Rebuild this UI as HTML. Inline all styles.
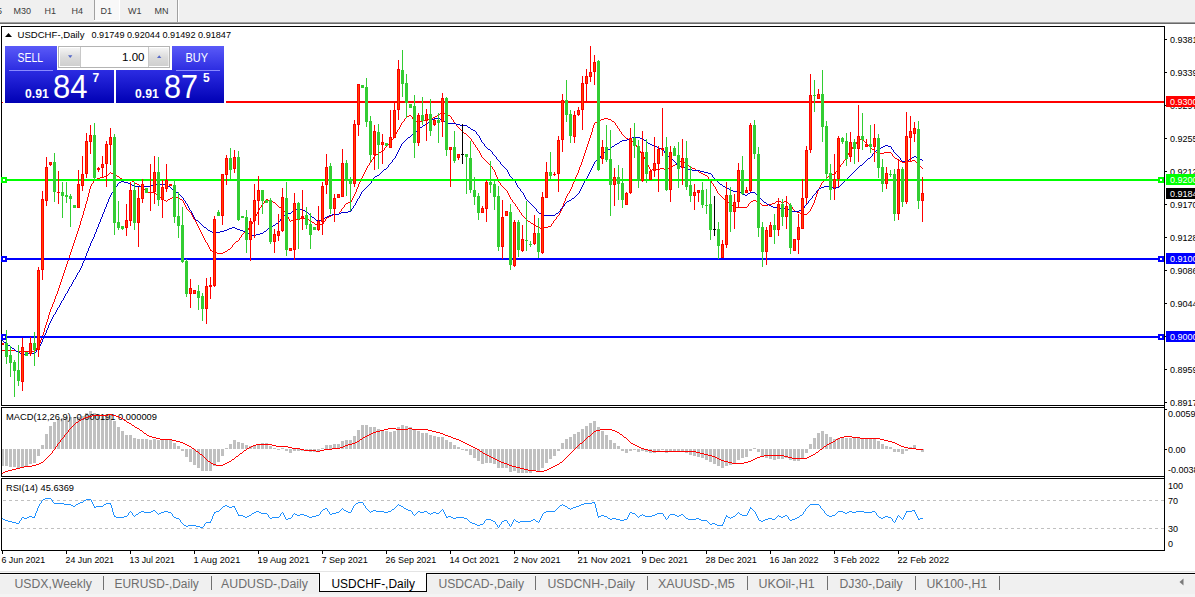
<!DOCTYPE html>
<html><head><meta charset="utf-8"><title>USDCHF-,Daily</title>
<style>
html,body{margin:0;padding:0;background:#fff;}
body{width:1195px;height:597px;overflow:hidden;position:relative;font-family:"Liberation Sans", sans-serif;}
svg{position:absolute;left:0;top:0;}
svg text{font-family:"Liberation Sans", sans-serif;}
</style></head><body>
<svg width="1195" height="597" viewBox="0 0 1195 597" shape-rendering="crispEdges">
<rect x="0" y="0" width="1195" height="22" fill="#f0f0f0"/><rect x="0" y="572" width="1195" height="25" fill="#f0f0f0"/><rect x="0" y="22" width="1195" height="1" fill="#a0a0a0"/><rect x="0" y="23" width="1195" height="1" fill="#696969"/><rect x="94" y="0" width="1" height="20" fill="#a0a0a0"/><rect x="95" y="0" width="24" height="20" fill="#f8f8f8"/><rect x="119" y="0" width="1" height="21" fill="#ffffff"/><rect x="94" y="20" width="26" height="1" fill="#ffffff"/><rect x="177" y="0" width="1" height="22" fill="#a0a0a0"/><rect x="178" y="0" width="1" height="22" fill="#ffffff"/><rect x="1" y="26" width="1164" height="1" fill="#000"/><rect x="1" y="26" width="1" height="525" fill="#000"/><rect x="1164" y="26" width="1" height="525" fill="#000"/><rect x="1" y="405" width="1164" height="1" fill="#000"/><rect x="1" y="407" width="1164" height="1" fill="#000"/><rect x="1" y="476" width="1164" height="1" fill="#000"/><rect x="1" y="478" width="1164" height="1" fill="#000"/><rect x="1" y="550" width="1164" height="1" fill="#000"/><rect x="0" y="406" width="1164" height="1" fill="#fff"/><rect x="0" y="477" width="1164" height="1" fill="#fff"/><rect x="2" y="449" width="2" height="17" fill="#c0c0c0"/><rect x="5" y="449" width="3" height="17" fill="#c0c0c0"/><rect x="9" y="449" width="3" height="18" fill="#c0c0c0"/><rect x="13" y="449" width="3" height="18" fill="#c0c0c0"/><rect x="17" y="449" width="3" height="19" fill="#c0c0c0"/><rect x="21" y="449" width="3" height="18" fill="#c0c0c0"/><rect x="25" y="449" width="3" height="17" fill="#c0c0c0"/><rect x="29" y="449" width="3" height="15" fill="#c0c0c0"/><rect x="33" y="449" width="3" height="14" fill="#c0c0c0"/><rect x="37" y="449" width="3" height="7" fill="#c0c0c0"/><rect x="41" y="445" width="3" height="4" fill="#c0c0c0"/><rect x="45" y="434" width="3" height="15" fill="#c0c0c0"/><rect x="49" y="426" width="3" height="23" fill="#c0c0c0"/><rect x="53" y="422" width="3" height="27" fill="#c0c0c0"/><rect x="57" y="419" width="3" height="30" fill="#c0c0c0"/><rect x="61" y="418" width="3" height="31" fill="#c0c0c0"/><rect x="65" y="417" width="3" height="32" fill="#c0c0c0"/><rect x="69" y="417" width="3" height="32" fill="#c0c0c0"/><rect x="73" y="417" width="3" height="32" fill="#c0c0c0"/><rect x="77" y="417" width="3" height="32" fill="#c0c0c0"/><rect x="81" y="416" width="3" height="33" fill="#c0c0c0"/><rect x="85" y="413" width="3" height="36" fill="#c0c0c0"/><rect x="89" y="411" width="3" height="38" fill="#c0c0c0"/><rect x="93" y="413" width="3" height="36" fill="#c0c0c0"/><rect x="97" y="414" width="3" height="35" fill="#c0c0c0"/><rect x="101" y="415" width="3" height="34" fill="#c0c0c0"/><rect x="105" y="415" width="3" height="34" fill="#c0c0c0"/><rect x="109" y="415" width="3" height="34" fill="#c0c0c0"/><rect x="113" y="421" width="3" height="28" fill="#c0c0c0"/><rect x="117" y="427" width="3" height="22" fill="#c0c0c0"/><rect x="121" y="431" width="3" height="18" fill="#c0c0c0"/><rect x="125" y="435" width="3" height="14" fill="#c0c0c0"/><rect x="129" y="435" width="3" height="14" fill="#c0c0c0"/><rect x="133" y="438" width="3" height="11" fill="#c0c0c0"/><rect x="137" y="439" width="3" height="10" fill="#c0c0c0"/><rect x="141" y="439" width="3" height="10" fill="#c0c0c0"/><rect x="145" y="439" width="3" height="10" fill="#c0c0c0"/><rect x="149" y="440" width="3" height="9" fill="#c0c0c0"/><rect x="153" y="439" width="3" height="10" fill="#c0c0c0"/><rect x="157" y="440" width="3" height="9" fill="#c0c0c0"/><rect x="161" y="440" width="3" height="9" fill="#c0c0c0"/><rect x="165" y="440" width="3" height="9" fill="#c0c0c0"/><rect x="169" y="440" width="3" height="9" fill="#c0c0c0"/><rect x="173" y="443" width="3" height="6" fill="#c0c0c0"/><rect x="177" y="446" width="3" height="3" fill="#c0c0c0"/><rect x="181" y="449" width="3" height="2" fill="#c0c0c0"/><rect x="185" y="449" width="3" height="8" fill="#c0c0c0"/><rect x="189" y="449" width="3" height="13" fill="#c0c0c0"/><rect x="193" y="449" width="3" height="16" fill="#c0c0c0"/><rect x="197" y="449" width="3" height="19" fill="#c0c0c0"/><rect x="201" y="449" width="3" height="22" fill="#c0c0c0"/><rect x="205" y="449" width="3" height="22" fill="#c0c0c0"/><rect x="209" y="449" width="3" height="22" fill="#c0c0c0"/><rect x="213" y="449" width="3" height="17" fill="#c0c0c0"/><rect x="217" y="449" width="3" height="13" fill="#c0c0c0"/><rect x="221" y="449" width="3" height="7" fill="#c0c0c0"/><rect x="225" y="448" width="3" height="1" fill="#c0c0c0"/><rect x="229" y="444" width="3" height="5" fill="#c0c0c0"/><rect x="233" y="440" width="3" height="9" fill="#c0c0c0"/><rect x="237" y="442" width="3" height="7" fill="#c0c0c0"/><rect x="241" y="443" width="3" height="6" fill="#c0c0c0"/><rect x="245" y="445" width="3" height="4" fill="#c0c0c0"/><rect x="249" y="446" width="3" height="3" fill="#c0c0c0"/><rect x="253" y="445" width="3" height="4" fill="#c0c0c0"/><rect x="257" y="444" width="3" height="5" fill="#c0c0c0"/><rect x="261" y="443" width="3" height="6" fill="#c0c0c0"/><rect x="265" y="443" width="3" height="6" fill="#c0c0c0"/><rect x="269" y="446" width="3" height="3" fill="#c0c0c0"/><rect x="273" y="448" width="3" height="1" fill="#c0c0c0"/><rect x="277" y="449" width="3" height="1" fill="#c0c0c0"/><rect x="281" y="448" width="3" height="1" fill="#c0c0c0"/><rect x="285" y="449" width="3" height="2" fill="#c0c0c0"/><rect x="289" y="449" width="3" height="4" fill="#c0c0c0"/><rect x="293" y="449" width="3" height="2" fill="#c0c0c0"/><rect x="297" y="449" width="3" height="2" fill="#c0c0c0"/><rect x="301" y="449" width="3" height="2" fill="#c0c0c0"/><rect x="305" y="449" width="3" height="2" fill="#c0c0c0"/><rect x="309" y="449" width="3" height="3" fill="#c0c0c0"/><rect x="313" y="449" width="3" height="3" fill="#c0c0c0"/><rect x="317" y="449" width="3" height="3" fill="#c0c0c0"/><rect x="321" y="448" width="3" height="1" fill="#c0c0c0"/><rect x="325" y="445" width="3" height="4" fill="#c0c0c0"/><rect x="329" y="445" width="3" height="4" fill="#c0c0c0"/><rect x="333" y="444" width="3" height="5" fill="#c0c0c0"/><rect x="337" y="444" width="3" height="5" fill="#c0c0c0"/><rect x="341" y="441" width="3" height="8" fill="#c0c0c0"/><rect x="345" y="440" width="3" height="9" fill="#c0c0c0"/><rect x="349" y="440" width="3" height="9" fill="#c0c0c0"/><rect x="353" y="436" width="3" height="13" fill="#c0c0c0"/><rect x="357" y="430" width="3" height="19" fill="#c0c0c0"/><rect x="361" y="425" width="3" height="24" fill="#c0c0c0"/><rect x="365" y="425" width="3" height="24" fill="#c0c0c0"/><rect x="369" y="427" width="3" height="22" fill="#c0c0c0"/><rect x="373" y="427" width="3" height="22" fill="#c0c0c0"/><rect x="377" y="429" width="3" height="20" fill="#c0c0c0"/><rect x="381" y="430" width="3" height="19" fill="#c0c0c0"/><rect x="385" y="431" width="3" height="18" fill="#c0c0c0"/><rect x="389" y="432" width="3" height="17" fill="#c0c0c0"/><rect x="393" y="431" width="3" height="18" fill="#c0c0c0"/><rect x="397" y="427" width="3" height="22" fill="#c0c0c0"/><rect x="401" y="425" width="3" height="24" fill="#c0c0c0"/><rect x="405" y="426" width="3" height="23" fill="#c0c0c0"/><rect x="409" y="427" width="3" height="22" fill="#c0c0c0"/><rect x="413" y="430" width="3" height="19" fill="#c0c0c0"/><rect x="417" y="431" width="3" height="18" fill="#c0c0c0"/><rect x="421" y="433" width="3" height="16" fill="#c0c0c0"/><rect x="425" y="433" width="3" height="16" fill="#c0c0c0"/><rect x="429" y="435" width="3" height="14" fill="#c0c0c0"/><rect x="433" y="436" width="3" height="13" fill="#c0c0c0"/><rect x="437" y="437" width="3" height="12" fill="#c0c0c0"/><rect x="441" y="437" width="3" height="12" fill="#c0c0c0"/><rect x="445" y="440" width="3" height="9" fill="#c0c0c0"/><rect x="449" y="442" width="3" height="7" fill="#c0c0c0"/><rect x="453" y="445" width="3" height="4" fill="#c0c0c0"/><rect x="457" y="447" width="3" height="2" fill="#c0c0c0"/><rect x="461" y="449" width="3" height="1" fill="#c0c0c0"/><rect x="465" y="449" width="3" height="2" fill="#c0c0c0"/><rect x="469" y="449" width="3" height="6" fill="#c0c0c0"/><rect x="473" y="449" width="3" height="9" fill="#c0c0c0"/><rect x="477" y="449" width="3" height="12" fill="#c0c0c0"/><rect x="481" y="449" width="3" height="15" fill="#c0c0c0"/><rect x="485" y="449" width="3" height="14" fill="#c0c0c0"/><rect x="489" y="449" width="3" height="14" fill="#c0c0c0"/><rect x="493" y="449" width="3" height="15" fill="#c0c0c0"/><rect x="497" y="449" width="3" height="19" fill="#c0c0c0"/><rect x="501" y="449" width="3" height="19" fill="#c0c0c0"/><rect x="505" y="449" width="3" height="19" fill="#c0c0c0"/><rect x="509" y="449" width="3" height="23" fill="#c0c0c0"/><rect x="513" y="449" width="3" height="22" fill="#c0c0c0"/><rect x="517" y="449" width="3" height="24" fill="#c0c0c0"/><rect x="521" y="449" width="3" height="24" fill="#c0c0c0"/><rect x="525" y="449" width="3" height="24" fill="#c0c0c0"/><rect x="529" y="449" width="3" height="24" fill="#c0c0c0"/><rect x="533" y="449" width="3" height="22" fill="#c0c0c0"/><rect x="537" y="449" width="3" height="23" fill="#c0c0c0"/><rect x="541" y="449" width="3" height="19" fill="#c0c0c0"/><rect x="545" y="449" width="3" height="14" fill="#c0c0c0"/><rect x="549" y="449" width="3" height="10" fill="#c0c0c0"/><rect x="553" y="449" width="3" height="7" fill="#c0c0c0"/><rect x="557" y="449" width="3" height="2" fill="#c0c0c0"/><rect x="561" y="443" width="3" height="6" fill="#c0c0c0"/><rect x="565" y="439" width="3" height="10" fill="#c0c0c0"/><rect x="569" y="437" width="3" height="12" fill="#c0c0c0"/><rect x="573" y="434" width="3" height="15" fill="#c0c0c0"/><rect x="577" y="432" width="3" height="17" fill="#c0c0c0"/><rect x="581" y="429" width="3" height="20" fill="#c0c0c0"/><rect x="585" y="426" width="3" height="23" fill="#c0c0c0"/><rect x="589" y="423" width="3" height="26" fill="#c0c0c0"/><rect x="593" y="421" width="3" height="28" fill="#c0c0c0"/><rect x="597" y="427" width="3" height="22" fill="#c0c0c0"/><rect x="601" y="431" width="3" height="18" fill="#c0c0c0"/><rect x="605" y="435" width="3" height="14" fill="#c0c0c0"/><rect x="609" y="440" width="3" height="9" fill="#c0c0c0"/><rect x="613" y="443" width="3" height="6" fill="#c0c0c0"/><rect x="617" y="446" width="3" height="3" fill="#c0c0c0"/><rect x="621" y="449" width="3" height="2" fill="#c0c0c0"/><rect x="625" y="449" width="3" height="4" fill="#c0c0c0"/><rect x="629" y="449" width="3" height="2" fill="#c0c0c0"/><rect x="633" y="449" width="3" height="1" fill="#c0c0c0"/><rect x="637" y="449" width="3" height="3" fill="#c0c0c0"/><rect x="641" y="449" width="3" height="2" fill="#c0c0c0"/><rect x="645" y="449" width="3" height="3" fill="#c0c0c0"/><rect x="649" y="449" width="3" height="4" fill="#c0c0c0"/><rect x="653" y="449" width="3" height="4" fill="#c0c0c0"/><rect x="657" y="449" width="3" height="2" fill="#c0c0c0"/><rect x="661" y="449" width="3" height="1" fill="#c0c0c0"/><rect x="665" y="449" width="3" height="4" fill="#c0c0c0"/><rect x="669" y="449" width="3" height="3" fill="#c0c0c0"/><rect x="673" y="449" width="3" height="2" fill="#c0c0c0"/><rect x="677" y="449" width="3" height="2" fill="#c0c0c0"/><rect x="681" y="449" width="3" height="2" fill="#c0c0c0"/><rect x="685" y="449" width="3" height="4" fill="#c0c0c0"/><rect x="689" y="449" width="3" height="6" fill="#c0c0c0"/><rect x="693" y="449" width="3" height="7" fill="#c0c0c0"/><rect x="697" y="449" width="3" height="8" fill="#c0c0c0"/><rect x="701" y="449" width="3" height="9" fill="#c0c0c0"/><rect x="705" y="449" width="3" height="11" fill="#c0c0c0"/><rect x="709" y="449" width="3" height="13" fill="#c0c0c0"/><rect x="713" y="449" width="3" height="15" fill="#c0c0c0"/><rect x="717" y="449" width="3" height="17" fill="#c0c0c0"/><rect x="721" y="449" width="3" height="19" fill="#c0c0c0"/><rect x="725" y="449" width="3" height="17" fill="#c0c0c0"/><rect x="729" y="449" width="3" height="16" fill="#c0c0c0"/><rect x="733" y="449" width="3" height="14" fill="#c0c0c0"/><rect x="737" y="449" width="3" height="11" fill="#c0c0c0"/><rect x="741" y="449" width="3" height="9" fill="#c0c0c0"/><rect x="745" y="449" width="3" height="8" fill="#c0c0c0"/><rect x="749" y="449" width="3" height="2" fill="#c0c0c0"/><rect x="753" y="448" width="3" height="1" fill="#c0c0c0"/><rect x="757" y="449" width="3" height="3" fill="#c0c0c0"/><rect x="761" y="449" width="3" height="7" fill="#c0c0c0"/><rect x="765" y="449" width="3" height="9" fill="#c0c0c0"/><rect x="769" y="449" width="3" height="10" fill="#c0c0c0"/><rect x="773" y="449" width="3" height="11" fill="#c0c0c0"/><rect x="777" y="449" width="3" height="10" fill="#c0c0c0"/><rect x="781" y="449" width="3" height="10" fill="#c0c0c0"/><rect x="785" y="449" width="3" height="9" fill="#c0c0c0"/><rect x="789" y="449" width="3" height="11" fill="#c0c0c0"/><rect x="793" y="449" width="3" height="12" fill="#c0c0c0"/><rect x="797" y="449" width="3" height="12" fill="#c0c0c0"/><rect x="801" y="449" width="3" height="9" fill="#c0c0c0"/><rect x="805" y="449" width="3" height="4" fill="#c0c0c0"/><rect x="809" y="444" width="3" height="5" fill="#c0c0c0"/><rect x="813" y="438" width="3" height="11" fill="#c0c0c0"/><rect x="817" y="433" width="3" height="16" fill="#c0c0c0"/><rect x="821" y="431" width="3" height="18" fill="#c0c0c0"/><rect x="825" y="434" width="3" height="15" fill="#c0c0c0"/><rect x="829" y="437" width="3" height="12" fill="#c0c0c0"/><rect x="833" y="439" width="3" height="10" fill="#c0c0c0"/><rect x="837" y="438" width="3" height="11" fill="#c0c0c0"/><rect x="841" y="437" width="3" height="12" fill="#c0c0c0"/><rect x="845" y="438" width="3" height="11" fill="#c0c0c0"/><rect x="849" y="438" width="3" height="11" fill="#c0c0c0"/><rect x="853" y="438" width="3" height="11" fill="#c0c0c0"/><rect x="857" y="438" width="3" height="11" fill="#c0c0c0"/><rect x="861" y="438" width="3" height="11" fill="#c0c0c0"/><rect x="865" y="438" width="3" height="11" fill="#c0c0c0"/><rect x="869" y="439" width="3" height="10" fill="#c0c0c0"/><rect x="873" y="439" width="3" height="10" fill="#c0c0c0"/><rect x="877" y="441" width="3" height="8" fill="#c0c0c0"/><rect x="881" y="444" width="3" height="5" fill="#c0c0c0"/><rect x="885" y="446" width="3" height="3" fill="#c0c0c0"/><rect x="889" y="447" width="3" height="2" fill="#c0c0c0"/><rect x="893" y="449" width="3" height="3" fill="#c0c0c0"/><rect x="897" y="449" width="3" height="3" fill="#c0c0c0"/><rect x="901" y="449" width="3" height="5" fill="#c0c0c0"/><rect x="905" y="449" width="3" height="2" fill="#c0c0c0"/><rect x="909" y="447" width="3" height="2" fill="#c0c0c0"/><rect x="913" y="445" width="3" height="4" fill="#c0c0c0"/><rect x="917" y="449" width="3" height="1" fill="#c0c0c0"/><rect x="921" y="449" width="3" height="3" fill="#c0c0c0"/><text x="6" y="419.6" font-size="9" fill="#000" text-anchor="start" font-weight="normal" textLength="151" lengthAdjust="spacingAndGlyphs">MACD(12,26,9) -0.000191 0.000009</text><text x="6" y="490.6" font-size="9" fill="#000" text-anchor="start" font-weight="normal" textLength="68" lengthAdjust="spacingAndGlyphs">RSI(14) 45.6369</text><line x1="3" y1="500.5" x2="1164" y2="500.5" stroke="#c0c0c0" stroke-width="1" stroke-dasharray="3,3"/><line x1="3" y1="528.5" x2="1164" y2="528.5" stroke="#c0c0c0" stroke-width="1" stroke-dasharray="3,3"/><path d="M442 112h2v1h-2zM440 113h2v1h-2zM444 113h3v1h-3zM439 114h1v1h-1zM447 114h1v1h-1zM409 115h2v1h-2zM437 115h2v1h-2zM448 115h2v1h-2zM407 116h2v1h-2zM411 116h1v1h-1zM435 116h2v1h-2zM450 116h1v1h-1zM406 117h1v1h-1zM433 117h2v1h-2zM412 117h1v2h-1zM451 117h1v2h-1zM405 118h1v1h-1zM431 118h2v1h-2zM604 118h4v1h-4zM413 119h1v1h-1zM425 119h6v1h-6zM452 119h1v1h-1zM601 119h3v1h-3zM608 119h3v1h-3zM404 119h1v2h-1zM414 120h1v1h-1zM423 120h2v1h-2zM599 120h2v1h-2zM611 120h1v1h-1zM453 120h1v2h-1zM403 121h1v1h-1zM415 121h2v1h-2zM420 121h3v1h-3zM597 121h2v1h-2zM612 121h2v1h-2zM402 122h1v1h-1zM417 122h3v1h-3zM454 122h1v1h-1zM595 122h2v1h-2zM614 122h1v1h-1zM455 123h1v1h-1zM401 123h1v2h-1zM594 123h1v2h-1zM615 123h1v2h-1zM456 124h1v2h-1zM616 125h1v1h-1zM400 125h1v2h-1zM593 125h1v3h-1zM457 126h1v1h-1zM617 126h1v2h-1zM458 127h1v1h-1zM399 127h1v2h-1zM459 128h1v1h-1zM618 128h1v1h-1zM592 128h1v4h-1zM398 129h1v1h-1zM460 129h1v1h-1zM619 129h1v2h-1zM461 130h1v1h-1zM397 130h1v2h-1zM462 131h1v1h-1zM620 131h1v1h-1zM463 132h1v1h-1zM396 132h1v2h-1zM621 132h1v2h-1zM591 132h1v3h-1zM464 133h2v1h-2zM466 134h1v1h-1zM622 134h1v1h-1zM395 134h1v2h-1zM467 135h1v1h-1zM623 135h1v1h-1zM590 135h1v3h-1zM394 136h1v1h-1zM468 136h1v1h-1zM624 136h1v1h-1zM469 137h1v1h-1zM625 137h1v1h-1zM393 137h1v2h-1zM470 138h1v1h-1zM626 138h2v1h-2zM589 138h1v3h-1zM392 139h1v1h-1zM628 139h3v1h-3zM860 139h3v1h-3zM471 139h1v2h-1zM631 140h1v1h-1zM858 140h2v1h-2zM863 140h1v1h-1zM391 140h1v2h-1zM472 141h1v1h-1zM632 141h2v1h-2zM857 141h1v1h-1zM864 141h1v1h-1zM588 141h1v3h-1zM390 142h1v1h-1zM634 142h1v1h-1zM865 142h1v1h-1zM473 142h1v2h-1zM856 142h1v2h-1zM389 143h1v1h-1zM866 143h1v1h-1zM635 143h1v2h-1zM388 144h1v1h-1zM474 144h1v1h-1zM855 144h1v1h-1zM867 144h1v1h-1zM587 144h1v3h-1zM387 145h1v1h-1zM854 145h1v1h-1zM868 145h1v1h-1zM475 145h1v2h-1zM636 145h1v2h-1zM386 146h1v1h-1zM853 146h1v1h-1zM869 146h1v1h-1zM385 147h1v1h-1zM476 147h1v1h-1zM870 147h1v1h-1zM637 147h1v2h-1zM852 147h1v2h-1zM586 147h1v3h-1zM871 148h1v1h-1zM384 148h1v2h-1zM477 148h1v2h-1zM638 149h1v1h-1zM851 149h1v1h-1zM872 149h2v1h-2zM383 150h1v1h-1zM478 150h1v1h-1zM639 150h1v1h-1zM850 150h1v1h-1zM874 150h1v1h-1zM585 150h1v3h-1zM381 151h2v1h-2zM875 151h1v1h-1zM479 151h1v2h-1zM640 151h1v2h-1zM849 151h1v2h-1zM379 152h2v1h-2zM876 152h2v1h-2zM884 152h7v1h-7zM378 153h1v1h-1zM641 153h1v1h-1zM878 153h6v1h-6zM891 153h1v1h-1zM480 153h1v2h-1zM848 153h1v2h-1zM584 153h1v3h-1zM376 154h2v1h-2zM642 154h1v1h-1zM892 154h1v2h-1zM375 155h1v1h-1zM481 155h1v2h-1zM643 155h1v2h-1zM847 155h1v2h-1zM374 156h1v1h-1zM893 156h1v1h-1zM583 156h1v3h-1zM482 157h1v1h-1zM846 157h1v1h-1zM894 157h1v1h-1zM373 157h1v2h-1zM644 157h1v2h-1zM483 158h1v1h-1zM895 158h2v1h-2zM845 158h1v2h-1zM372 159h1v1h-1zM484 159h1v1h-1zM897 159h2v1h-2zM645 159h1v2h-1zM582 159h1v3h-1zM485 160h1v1h-1zM682 160h1v1h-1zM844 160h1v1h-1zM899 160h1v1h-1zM912 160h3v1h-3zM371 160h1v2h-1zM486 161h1v1h-1zM680 161h2v1h-2zM683 161h1v1h-1zM900 161h2v1h-2zM908 161h4v1h-4zM915 161h1v1h-1zM646 161h1v2h-1zM843 161h1v2h-1zM370 162h1v1h-1zM487 162h1v1h-1zM679 162h1v1h-1zM684 162h2v1h-2zM902 162h6v1h-6zM916 162h1v1h-1zM581 162h1v3h-1zM488 163h1v1h-1zM677 163h2v1h-2zM686 163h1v1h-1zM842 163h1v1h-1zM917 163h1v1h-1zM369 163h1v2h-1zM647 163h1v2h-1zM489 164h1v1h-1zM675 164h2v1h-2zM687 164h1v1h-1zM841 164h1v1h-1zM918 164h1v1h-1zM368 165h1v1h-1zM490 165h1v1h-1zM673 165h2v1h-2zM688 165h1v1h-1zM919 165h1v1h-1zM580 165h1v2h-1zM648 165h1v2h-1zM840 165h1v2h-1zM491 166h1v1h-1zM671 166h2v1h-2zM689 166h1v1h-1zM920 166h1v1h-1zM367 166h1v2h-1zM669 167h2v1h-2zM690 167h2v1h-2zM839 167h1v1h-1zM921 167h1v1h-1zM492 167h1v2h-1zM649 167h1v2h-1zM579 167h1v3h-1zM660 168h4v1h-4zM667 168h2v1h-2zM692 168h3v1h-3zM838 168h1v1h-1zM922 168h1v1h-1zM366 168h1v2h-1zM493 169h1v1h-1zM652 169h8v1h-8zM664 169h3v1h-3zM695 169h1v1h-1zM650 169h1v2h-1zM837 169h1v2h-1zM651 170h1v1h-1zM696 170h2v1h-2zM365 170h1v2h-1zM494 170h1v2h-1zM578 170h1v3h-1zM698 171h1v1h-1zM836 171h1v1h-1zM110 172h1v1h-1zM699 172h2v1h-2zM364 172h1v2h-1zM835 172h1v2h-1zM495 172h1v3h-1zM109 173h1v1h-1zM111 173h2v1h-2zM701 173h2v1h-2zM577 173h1v2h-1zM108 174h1v1h-1zM113 174h2v1h-2zM703 174h2v1h-2zM832 174h3v1h-3zM363 174h1v2h-1zM107 175h1v1h-1zM115 175h2v1h-2zM705 175h2v1h-2zM830 175h2v1h-2zM496 175h1v2h-1zM576 175h1v2h-1zM104 176h3v1h-3zM117 176h2v1h-2zM707 176h1v1h-1zM828 176h2v1h-2zM362 176h1v2h-1zM100 177h4v1h-4zM119 177h1v1h-1zM827 177h1v1h-1zM575 177h1v2h-1zM708 177h1v2h-1zM497 177h1v3h-1zM97 178h3v1h-3zM120 178h2v1h-2zM826 178h1v1h-1zM361 178h1v2h-1zM95 179h2v1h-2zM122 179h2v1h-2zM128 179h3v1h-3zM709 179h1v1h-1zM825 179h1v1h-1zM574 179h1v3h-1zM94 180h1v1h-1zM124 180h4v1h-4zM131 180h1v1h-1zM710 180h1v1h-1zM824 180h1v1h-1zM360 180h1v2h-1zM498 180h1v2h-1zM132 181h2v1h-2zM823 181h1v1h-1zM93 181h1v2h-1zM711 181h1v2h-1zM134 182h1v1h-1zM499 182h1v1h-1zM822 182h1v1h-1zM359 182h1v2h-1zM573 182h1v2h-1zM92 183h1v1h-1zM135 183h2v1h-2zM712 183h1v1h-1zM500 183h1v2h-1zM821 183h1v2h-1zM137 184h2v1h-2zM91 184h1v2h-1zM713 184h1v2h-1zM358 184h1v3h-1zM572 184h1v3h-1zM139 185h1v1h-1zM501 185h1v1h-1zM820 185h1v2h-1zM140 186h2v1h-2zM502 186h1v1h-1zM714 186h1v1h-1zM90 186h1v3h-1zM142 187h1v1h-1zM503 187h1v1h-1zM357 187h1v2h-1zM571 187h1v2h-1zM715 187h1v2h-1zM819 187h1v2h-1zM143 188h1v1h-1zM504 188h1v1h-1zM144 189h1v1h-1zM505 189h1v1h-1zM570 189h1v2h-1zM716 189h1v2h-1zM818 189h1v2h-1zM356 189h1v3h-1zM89 189h1v4h-1zM145 190h1v1h-1zM506 190h1v1h-1zM146 191h2v1h-2zM507 191h1v2h-1zM569 191h1v2h-1zM717 191h1v2h-1zM817 191h1v3h-1zM148 192h7v1h-7zM355 192h1v2h-1zM155 193h1v1h-1zM568 193h1v1h-1zM718 193h1v1h-1zM508 193h1v2h-1zM88 193h1v4h-1zM156 194h2v1h-2zM719 194h1v1h-1zM354 194h1v2h-1zM567 194h1v2h-1zM816 194h1v3h-1zM158 195h1v1h-1zM720 195h1v1h-1zM509 195h1v2h-1zM159 196h1v1h-1zM721 196h1v1h-1zM353 196h1v2h-1zM566 196h1v2h-1zM160 197h2v1h-2zM172 197h7v1h-7zM722 197h1v1h-1zM510 197h1v2h-1zM815 197h1v3h-1zM87 197h1v4h-1zM162 198h1v1h-1zM170 198h2v1h-2zM179 198h1v1h-1zM723 198h1v1h-1zM352 198h1v2h-1zM565 198h1v3h-1zM163 199h1v1h-1zM168 199h2v1h-2zM180 199h2v1h-2zM266 199h2v1h-2zM511 199h1v1h-1zM724 199h2v1h-2zM164 200h2v1h-2zM167 200h1v1h-1zM182 200h1v1h-1zM265 200h1v1h-1zM268 200h3v1h-3zM726 200h1v1h-1zM753 200h3v1h-3zM778 200h1v1h-1zM351 200h1v2h-1zM512 200h1v2h-1zM814 200h1v3h-1zM166 201h1v1h-1zM271 201h2v1h-2zM727 201h1v1h-1zM751 201h2v1h-2zM756 201h3v1h-3zM776 201h2v1h-2zM779 201h2v1h-2zM784 201h3v1h-3zM183 201h1v2h-1zM264 201h1v2h-1zM564 201h1v2h-1zM86 201h1v3h-1zM273 202h2v1h-2zM348 202h3v1h-3zM513 202h1v1h-1zM728 202h1v1h-1zM750 202h1v1h-1zM759 202h1v1h-1zM775 202h1v1h-1zM781 202h3v1h-3zM787 202h1v1h-1zM263 203h1v1h-1zM275 203h1v1h-1zM346 203h2v1h-2zM514 203h1v1h-1zM729 203h1v1h-1zM749 203h1v1h-1zM760 203h1v1h-1zM772 203h3v1h-3zM788 203h1v1h-1zM184 203h1v2h-1zM813 203h1v2h-1zM563 203h1v3h-1zM262 204h1v1h-1zM276 204h1v1h-1zM345 204h1v1h-1zM730 204h1v1h-1zM761 204h1v1h-1zM768 204h4v1h-4zM789 204h1v1h-1zM515 204h1v2h-1zM748 204h1v2h-1zM85 204h1v4h-1zM277 205h1v1h-1zM731 205h2v1h-2zM762 205h6v1h-6zM790 205h1v1h-1zM185 205h1v2h-1zM261 205h1v2h-1zM344 205h1v2h-1zM812 205h1v2h-1zM278 206h1v1h-1zM516 206h1v1h-1zM733 206h3v1h-3zM747 206h1v1h-1zM791 206h1v1h-1zM562 206h1v3h-1zM260 207h1v1h-1zM279 207h2v1h-2zM343 207h1v1h-1zM736 207h11v1h-11zM186 207h1v2h-1zM517 207h1v2h-1zM792 207h1v2h-1zM811 207h1v2h-1zM281 208h2v1h-2zM342 208h1v1h-1zM259 208h1v2h-1zM84 208h1v3h-1zM187 209h1v1h-1zM518 209h1v1h-1zM793 209h1v1h-1zM283 209h1v2h-1zM341 209h1v2h-1zM561 209h1v2h-1zM810 209h1v2h-1zM188 210h1v1h-1zM794 210h1v1h-1zM258 210h1v2h-1zM519 210h1v2h-1zM189 211h1v1h-1zM284 211h1v1h-1zM340 211h1v1h-1zM795 211h2v1h-2zM809 211h1v1h-1zM560 211h1v2h-1zM83 211h1v4h-1zM190 212h1v1h-1zM520 212h1v1h-1zM797 212h3v1h-3zM808 212h1v1h-1zM257 212h1v2h-1zM285 212h1v2h-1zM339 212h1v2h-1zM800 213h4v1h-4zM807 213h1v1h-1zM191 213h1v2h-1zM521 213h1v2h-1zM559 213h1v2h-1zM286 214h1v1h-1zM333 214h6v1h-6zM804 214h3v1h-3zM256 214h1v2h-1zM331 215h2v1h-2zM522 215h1v1h-1zM558 215h1v1h-1zM192 215h1v2h-1zM287 215h1v2h-1zM82 215h1v3h-1zM329 216h2v1h-2zM523 216h1v1h-1zM557 216h1v1h-1zM255 216h1v2h-1zM327 217h2v1h-2zM524 217h1v1h-1zM193 217h1v2h-1zM288 217h1v2h-1zM556 217h1v2h-1zM300 218h7v1h-7zM326 218h1v1h-1zM525 218h1v1h-1zM254 218h1v2h-1zM81 218h1v3h-1zM194 219h1v1h-1zM293 219h7v1h-7zM307 219h2v1h-2zM526 219h1v1h-1zM555 219h1v1h-1zM289 219h1v2h-1zM325 219h1v2h-1zM291 220h2v1h-2zM309 220h2v1h-2zM527 220h1v1h-1zM554 220h1v1h-1zM195 220h1v2h-1zM253 220h1v2h-1zM290 221h1v1h-1zM311 221h1v1h-1zM324 221h1v1h-1zM528 221h2v1h-2zM553 221h1v2h-1zM80 221h1v4h-1zM312 222h2v1h-2zM530 222h1v1h-1zM196 222h1v2h-1zM252 222h1v2h-1zM323 222h1v2h-1zM314 223h1v1h-1zM531 223h2v1h-2zM552 223h1v1h-1zM315 224h2v1h-2zM320 224h3v1h-3zM533 224h2v1h-2zM197 224h1v2h-1zM251 224h1v2h-1zM551 224h1v2h-1zM317 225h3v1h-3zM535 225h1v1h-1zM79 225h1v3h-1zM250 226h1v1h-1zM536 226h2v1h-2zM548 226h3v1h-3zM198 226h1v2h-1zM249 227h1v1h-1zM538 227h2v1h-2zM544 227h4v1h-4zM540 228h4v1h-4zM199 228h1v2h-1zM248 228h1v2h-1zM78 228h1v3h-1zM247 230h1v1h-1zM200 230h1v2h-1zM246 231h1v1h-1zM77 231h1v3h-1zM244 232h2v1h-2zM201 232h1v2h-1zM243 233h1v1h-1zM242 234h1v1h-1zM202 234h1v2h-1zM76 234h1v3h-1zM241 235h1v2h-1zM203 236h1v2h-1zM240 237h1v1h-1zM75 237h1v3h-1zM204 238h1v2h-1zM239 238h1v2h-1zM238 240h1v1h-1zM205 240h1v2h-1zM74 240h1v3h-1zM236 241h2v1h-2zM206 242h1v1h-1zM235 242h1v1h-1zM234 243h1v1h-1zM207 243h1v2h-1zM73 243h1v3h-1zM233 244h1v1h-1zM208 245h1v2h-1zM232 245h1v2h-1zM72 246h1v3h-1zM231 247h1v1h-1zM209 247h1v2h-1zM230 248h1v1h-1zM228 249h2v1h-2zM210 249h1v2h-1zM71 249h1v3h-1zM211 250h1v1h-1zM227 250h1v1h-1zM212 251h3v1h-3zM225 251h2v1h-2zM215 252h2v1h-2zM223 252h2v1h-2zM70 252h1v3h-1zM217 253h6v1h-6zM69 255h1v3h-1zM68 258h1v3h-1zM67 261h1v3h-1zM66 264h1v3h-1zM65 267h1v3h-1zM64 270h1v3h-1zM63 273h1v3h-1zM62 276h1v3h-1zM61 279h1v3h-1zM60 282h1v3h-1zM59 285h1v3h-1zM58 288h1v3h-1zM57 291h1v3h-1zM56 294h1v2h-1zM55 296h1v3h-1zM54 299h1v3h-1zM53 302h1v2h-1zM52 304h1v3h-1zM51 307h1v2h-1zM50 309h1v3h-1zM49 312h1v3h-1zM48 315h1v4h-1zM47 319h1v3h-1zM46 322h1v3h-1zM45 325h1v3h-1zM44 328h1v4h-1zM43 332h1v3h-1zM42 335h1v3h-1zM41 338h1v2h-1zM40 340h1v3h-1zM39 343h1v2h-1zM38 345h1v2h-1zM37 347h1v1h-1zM36 348h1v2h-1zM2 350h14v1h-14zM35 350h1v1h-1zM16 351h19v1h-19z" fill="#ff0000"/><path d="M434 118h6v1h-6zM432 119h2v1h-2zM440 119h3v1h-3zM431 120h1v1h-1zM443 120h1v1h-1zM430 121h1v1h-1zM444 121h2v1h-2zM428 122h2v1h-2zM446 122h2v1h-2zM427 123h1v1h-1zM448 123h8v1h-8zM425 124h2v1h-2zM456 124h4v1h-4zM423 125h2v1h-2zM460 125h7v1h-7zM422 126h1v1h-1zM467 126h1v1h-1zM420 127h2v1h-2zM468 127h2v1h-2zM419 128h1v1h-1zM470 128h1v1h-1zM418 129h1v1h-1zM471 129h2v1h-2zM417 130h1v1h-1zM473 130h2v1h-2zM416 131h1v1h-1zM475 131h1v1h-1zM415 132h1v1h-1zM476 132h1v2h-1zM414 133h1v1h-1zM412 134h2v1h-2zM477 134h1v1h-1zM411 135h1v1h-1zM478 135h1v1h-1zM410 136h1v1h-1zM479 136h1v2h-1zM408 137h2v1h-2zM632 137h8v1h-8zM407 138h1v1h-1zM629 138h3v1h-3zM640 138h3v1h-3zM480 138h1v2h-1zM406 139h1v1h-1zM627 139h2v1h-2zM643 139h1v1h-1zM405 140h1v1h-1zM622 140h5v1h-5zM644 140h2v1h-2zM481 140h1v2h-1zM404 141h1v1h-1zM620 141h2v1h-2zM646 141h1v1h-1zM403 142h1v1h-1zM482 142h1v1h-1zM619 142h1v1h-1zM647 142h1v1h-1zM402 143h1v1h-1zM483 143h1v1h-1zM617 143h2v1h-2zM648 143h2v1h-2zM615 144h2v1h-2zM650 144h2v1h-2zM401 144h1v2h-1zM484 144h1v2h-1zM614 145h1v1h-1zM652 145h3v1h-3zM885 145h3v1h-3zM485 146h1v1h-1zM612 146h2v1h-2zM655 146h2v1h-2zM883 146h2v1h-2zM888 146h3v1h-3zM400 146h1v2h-1zM486 147h1v1h-1zM611 147h1v1h-1zM657 147h2v1h-2zM881 147h2v1h-2zM891 147h1v2h-1zM487 148h1v1h-1zM610 148h1v1h-1zM659 148h2v1h-2zM879 148h2v1h-2zM399 148h1v2h-1zM488 149h2v1h-2zM608 149h2v1h-2zM661 149h2v1h-2zM878 149h1v1h-1zM892 149h1v1h-1zM490 150h1v1h-1zM607 150h1v1h-1zM663 150h1v1h-1zM876 150h2v1h-2zM398 150h1v2h-1zM893 150h1v2h-1zM491 151h1v1h-1zM606 151h1v1h-1zM875 151h1v1h-1zM664 151h1v2h-1zM604 152h2v1h-2zM874 152h1v1h-1zM894 152h1v1h-1zM397 152h1v2h-1zM492 152h1v2h-1zM603 153h1v1h-1zM665 153h1v1h-1zM873 153h1v1h-1zM895 153h1v1h-1zM493 154h1v1h-1zM602 154h1v1h-1zM666 154h1v1h-1zM896 154h1v1h-1zM396 154h1v2h-1zM872 154h1v2h-1zM494 155h1v1h-1zM601 155h1v1h-1zM667 155h1v1h-1zM897 155h1v1h-1zM495 156h1v1h-1zM668 156h2v1h-2zM871 156h1v1h-1zM898 156h1v1h-1zM914 156h2v1h-2zM395 156h1v2h-1zM600 156h1v2h-1zM670 157h1v1h-1zM870 157h1v1h-1zM899 157h1v1h-1zM912 157h2v1h-2zM916 157h3v1h-3zM496 157h1v2h-1zM394 158h1v1h-1zM599 158h1v1h-1zM671 158h1v1h-1zM868 158h2v1h-2zM911 158h1v1h-1zM919 158h1v1h-1zM900 158h1v2h-1zM393 159h1v1h-1zM497 159h1v1h-1zM598 159h1v1h-1zM672 159h1v1h-1zM867 159h1v1h-1zM909 159h2v1h-2zM920 159h2v1h-2zM498 160h1v1h-1zM596 160h2v1h-2zM673 160h1v1h-1zM866 160h1v1h-1zM901 160h1v1h-1zM907 160h2v1h-2zM922 160h1v1h-1zM392 160h1v2h-1zM499 161h1v1h-1zM595 161h1v1h-1zM674 161h1v1h-1zM865 161h1v1h-1zM902 161h5v1h-5zM391 162h1v1h-1zM675 162h1v1h-1zM864 162h1v1h-1zM500 162h1v2h-1zM594 162h1v2h-1zM390 163h1v1h-1zM863 163h1v1h-1zM676 163h1v2h-1zM389 164h1v1h-1zM501 164h1v1h-1zM862 164h1v1h-1zM593 164h1v2h-1zM502 165h1v1h-1zM677 165h1v1h-1zM860 165h2v1h-2zM388 165h1v2h-1zM503 166h1v1h-1zM678 166h5v1h-5zM859 166h1v1h-1zM592 166h1v2h-1zM387 167h1v1h-1zM504 167h1v1h-1zM683 167h2v1h-2zM858 167h1v1h-1zM386 168h1v1h-1zM505 168h1v1h-1zM685 168h3v1h-3zM857 168h1v1h-1zM591 168h1v2h-1zM384 169h2v1h-2zM506 169h1v1h-1zM688 169h4v1h-4zM856 169h1v1h-1zM383 170h1v1h-1zM692 170h8v1h-8zM855 170h1v1h-1zM507 170h1v2h-1zM590 170h1v2h-1zM382 171h1v1h-1zM700 171h4v1h-4zM854 171h1v1h-1zM381 172h1v1h-1zM704 172h4v1h-4zM853 172h1v1h-1zM508 172h1v2h-1zM589 172h1v2h-1zM380 173h1v1h-1zM708 173h3v1h-3zM852 173h1v1h-1zM379 174h1v1h-1zM711 174h1v1h-1zM851 174h1v1h-1zM509 174h1v2h-1zM588 174h1v2h-1zM377 175h2v1h-2zM850 175h1v1h-1zM712 175h1v2h-1zM375 176h2v1h-2zM510 176h1v1h-1zM849 176h1v1h-1zM587 176h1v2h-1zM374 177h1v1h-1zM511 177h1v1h-1zM713 177h1v1h-1zM848 177h1v1h-1zM512 178h1v1h-1zM586 178h1v1h-1zM714 178h1v1h-1zM847 178h1v1h-1zM373 178h1v2h-1zM513 179h1v1h-1zM715 179h1v1h-1zM846 179h1v1h-1zM585 179h1v2h-1zM372 180h1v1h-1zM514 180h1v1h-1zM716 180h1v1h-1zM845 180h1v1h-1zM121 181h3v1h-3zM717 181h1v1h-1zM844 181h1v1h-1zM371 181h1v2h-1zM515 181h1v2h-1zM584 181h1v2h-1zM119 182h2v1h-2zM124 182h4v1h-4zM718 182h1v1h-1zM843 182h1v1h-1zM118 183h1v1h-1zM128 183h3v1h-3zM370 183h1v1h-1zM719 183h1v1h-1zM842 183h1v1h-1zM516 183h1v2h-1zM583 183h1v2h-1zM131 184h1v1h-1zM153 184h14v1h-14zM369 184h1v1h-1zM720 184h2v1h-2zM841 184h1v1h-1zM117 184h1v2h-1zM132 185h2v1h-2zM151 185h2v1h-2zM167 185h1v1h-1zM368 185h1v1h-1zM722 185h1v1h-1zM840 185h1v1h-1zM517 185h1v2h-1zM582 185h1v2h-1zM116 186h1v1h-1zM134 186h17v1h-17zM168 186h2v1h-2zM367 186h1v1h-1zM723 186h2v1h-2zM824 186h7v1h-7zM839 186h1v1h-1zM170 187h1v1h-1zM366 187h1v1h-1zM518 187h1v1h-1zM725 187h2v1h-2zM821 187h3v1h-3zM831 187h2v1h-2zM836 187h3v1h-3zM115 187h1v2h-1zM581 187h1v2h-1zM171 188h1v1h-1zM365 188h1v1h-1zM519 188h1v1h-1zM727 188h2v1h-2zM819 188h2v1h-2zM833 188h3v1h-3zM114 189h1v1h-1zM172 189h2v1h-2zM364 189h1v1h-1zM729 189h2v1h-2zM818 189h1v1h-1zM520 189h1v2h-1zM580 189h1v2h-1zM174 190h1v1h-1zM363 190h1v1h-1zM731 190h2v1h-2zM817 190h1v1h-1zM113 190h1v2h-1zM175 191h1v1h-1zM362 191h1v1h-1zM521 191h1v1h-1zM733 191h6v1h-6zM579 191h1v2h-1zM816 191h1v2h-1zM112 192h1v1h-1zM176 192h2v1h-2zM522 192h1v1h-1zM739 192h2v1h-2zM750 192h5v1h-5zM361 192h1v2h-1zM178 193h1v1h-1zM578 193h1v1h-1zM741 193h2v1h-2zM748 193h2v1h-2zM755 193h1v1h-1zM815 193h1v1h-1zM111 193h1v2h-1zM523 193h1v2h-1zM179 194h1v1h-1zM577 194h1v1h-1zM743 194h2v1h-2zM747 194h1v1h-1zM756 194h1v1h-1zM814 194h1v1h-1zM360 194h1v2h-1zM180 195h1v1h-1zM576 195h1v1h-1zM745 195h2v1h-2zM757 195h1v1h-1zM813 195h1v1h-1zM110 195h1v2h-1zM524 195h1v2h-1zM181 196h1v1h-1zM575 196h1v1h-1zM758 196h1v1h-1zM359 196h1v2h-1zM812 196h1v2h-1zM182 197h1v1h-1zM574 197h1v1h-1zM759 197h1v1h-1zM109 197h1v2h-1zM525 197h1v2h-1zM358 198h1v1h-1zM572 198h2v1h-2zM760 198h1v1h-1zM811 198h1v1h-1zM183 198h1v2h-1zM526 199h1v1h-1zM571 199h1v1h-1zM761 199h1v1h-1zM810 199h1v1h-1zM357 199h1v2h-1zM108 199h1v3h-1zM184 200h1v1h-1zM527 200h1v1h-1zM569 200h2v1h-2zM762 200h1v1h-1zM809 200h1v1h-1zM528 201h1v1h-1zM567 201h2v1h-2zM763 201h1v1h-1zM185 201h1v2h-1zM356 201h1v2h-1zM808 201h1v2h-1zM529 202h1v1h-1zM566 202h1v1h-1zM764 202h2v1h-2zM107 202h1v2h-1zM186 203h1v1h-1zM530 203h1v1h-1zM565 203h1v1h-1zM766 203h1v1h-1zM807 203h1v1h-1zM355 203h1v2h-1zM531 204h1v1h-1zM767 204h2v1h-2zM806 204h1v1h-1zM187 204h1v2h-1zM564 204h1v2h-1zM106 204h1v3h-1zM354 205h1v1h-1zM532 205h1v1h-1zM769 205h2v1h-2zM805 205h1v1h-1zM533 206h1v1h-1zM563 206h1v1h-1zM771 206h2v1h-2zM188 206h1v2h-1zM353 206h1v2h-1zM804 206h1v2h-1zM534 207h1v1h-1zM562 207h1v1h-1zM773 207h7v1h-7zM105 207h1v2h-1zM352 208h1v1h-1zM535 208h1v1h-1zM561 208h1v1h-1zM780 208h7v1h-7zM803 208h1v1h-1zM189 208h1v2h-1zM294 209h9v1h-9zM787 209h2v1h-2zM801 209h2v1h-2zM351 209h1v2h-1zM536 209h1v2h-1zM560 209h1v2h-1zM104 209h1v3h-1zM190 210h1v1h-1zM293 210h1v1h-1zM303 210h2v1h-2zM789 210h3v1h-3zM799 210h2v1h-2zM292 211h1v1h-1zM305 211h2v1h-2zM348 211h3v1h-3zM537 211h1v1h-1zM559 211h1v1h-1zM792 211h7v1h-7zM191 211h1v2h-1zM291 212h1v1h-1zM307 212h1v1h-1zM341 212h7v1h-7zM538 212h1v1h-1zM558 212h1v1h-1zM103 212h1v2h-1zM288 213h3v1h-3zM308 213h1v1h-1zM339 213h2v1h-2zM539 213h2v1h-2zM556 213h2v1h-2zM192 213h1v2h-1zM286 214h2v1h-2zM309 214h1v1h-1zM332 214h7v1h-7zM541 214h3v1h-3zM555 214h1v1h-1zM102 214h1v3h-1zM284 215h2v1h-2zM310 215h1v1h-1zM329 215h3v1h-3zM544 215h11v1h-11zM193 215h1v2h-1zM283 216h1v1h-1zM311 216h1v1h-1zM327 216h2v1h-2zM282 217h1v1h-1zM312 217h2v1h-2zM325 217h2v1h-2zM101 217h1v2h-1zM194 217h1v2h-1zM281 218h1v1h-1zM314 218h1v1h-1zM323 218h2v1h-2zM195 219h1v1h-1zM315 219h1v1h-1zM321 219h2v1h-2zM280 219h1v2h-1zM100 219h1v3h-1zM196 220h2v1h-2zM316 220h2v1h-2zM319 220h2v1h-2zM198 221h1v1h-1zM279 221h1v1h-1zM318 221h1v1h-1zM199 222h1v1h-1zM278 222h1v1h-1zM99 222h1v2h-1zM200 223h1v1h-1zM276 223h2v1h-2zM201 224h1v1h-1zM275 224h1v1h-1zM98 224h1v3h-1zM202 225h1v1h-1zM273 225h2v1h-2zM203 226h1v1h-1zM271 226h2v1h-2zM204 227h2v1h-2zM232 227h3v1h-3zM270 227h1v1h-1zM97 227h1v2h-1zM206 228h1v1h-1zM229 228h3v1h-3zM235 228h2v1h-2zM268 228h2v1h-2zM207 229h1v1h-1zM227 229h2v1h-2zM237 229h3v1h-3zM267 229h1v1h-1zM96 229h1v3h-1zM208 230h2v1h-2zM224 230h3v1h-3zM240 230h3v1h-3zM266 230h1v1h-1zM210 231h2v1h-2zM220 231h4v1h-4zM243 231h2v1h-2zM264 231h2v1h-2zM212 232h8v1h-8zM245 232h2v1h-2zM263 232h1v1h-1zM95 232h1v2h-1zM247 233h2v1h-2zM260 233h3v1h-3zM249 234h3v1h-3zM256 234h4v1h-4zM94 234h1v3h-1zM252 235h4v1h-4zM93 237h1v2h-1zM92 239h1v2h-1zM91 241h1v2h-1zM90 243h1v3h-1zM89 246h1v2h-1zM88 248h1v3h-1zM87 251h1v2h-1zM86 253h1v3h-1zM85 256h1v2h-1zM84 258h1v3h-1zM83 261h1v2h-1zM82 263h1v3h-1zM81 266h1v2h-1zM80 268h1v2h-1zM79 270h1v2h-1zM78 272h1v1h-1zM77 273h1v2h-1zM76 275h1v2h-1zM75 277h1v2h-1zM74 279h1v1h-1zM73 280h1v2h-1zM72 282h1v2h-1zM71 284h1v2h-1zM70 286h1v1h-1zM69 287h1v2h-1zM68 289h1v2h-1zM67 291h1v2h-1zM66 293h1v1h-1zM65 294h1v2h-1zM64 296h1v2h-1zM63 298h1v2h-1zM62 300h1v1h-1zM61 301h1v2h-1zM60 303h1v2h-1zM59 305h1v2h-1zM58 307h1v1h-1zM57 308h1v2h-1zM56 310h1v2h-1zM55 312h1v2h-1zM54 314h1v1h-1zM53 315h1v2h-1zM52 317h1v2h-1zM51 319h1v2h-1zM50 321h1v2h-1zM49 323h1v2h-1zM48 325h1v3h-1zM47 328h1v2h-1zM46 330h1v3h-1zM45 333h1v2h-1zM44 335h1v2h-1zM43 337h1v2h-1zM42 339h1v3h-1zM2 340h1v1h-1zM3 341h1v1h-1zM4 342h2v1h-2zM41 342h1v2h-1zM6 343h1v1h-1zM7 344h1v1h-1zM40 344h1v2h-1zM8 345h2v1h-2zM10 346h1v1h-1zM39 346h1v2h-1zM11 347h1v1h-1zM12 348h2v1h-2zM38 348h1v1h-1zM14 349h1v1h-1zM37 349h1v1h-1zM15 350h1v1h-1zM36 350h1v2h-1zM16 351h2v1h-2zM18 352h2v1h-2zM35 352h1v1h-1zM20 353h4v1h-4zM28 353h7v1h-7zM24 354h4v1h-4z" fill="#0000cd"/><rect x="226" y="101" width="938" height="2" fill="#ff0000"/><rect x="2" y="102" width="1" height="1" fill="#ff0000"/><rect x="2" y="179" width="1162" height="2" fill="#00ff00"/><rect x="1" y="177" width="6" height="6" fill="#00ff00"/><rect x="3" y="179" width="2" height="2" fill="#fff"/><rect x="1158" y="177" width="6" height="6" fill="#00ff00"/><rect x="1160" y="179" width="2" height="2" fill="#fff"/><rect x="2" y="258" width="1162" height="2" fill="#0000ff"/><rect x="1" y="256" width="6" height="6" fill="#0000ff"/><rect x="3" y="258" width="2" height="2" fill="#fff"/><rect x="1158" y="256" width="6" height="6" fill="#0000ff"/><rect x="1160" y="258" width="2" height="2" fill="#fff"/><rect x="2" y="336" width="1162" height="2" fill="#0000ff"/><rect x="1" y="334" width="6" height="6" fill="#0000ff"/><rect x="3" y="336" width="2" height="2" fill="#fff"/><rect x="1158" y="334" width="6" height="6" fill="#0000ff"/><rect x="1160" y="336" width="2" height="2" fill="#fff"/>
<rect x="2" y="343" width="1" height="2" fill="#ff0000"/><rect x="2" y="343" width="2" height="2" fill="#ff0000"/><rect x="6" y="330" width="1" height="34" fill="#32cd32"/><rect x="5" y="343" width="3" height="14" fill="#32cd32"/><rect x="10" y="346" width="1" height="31" fill="#32cd32"/><rect x="9" y="355" width="3" height="8" fill="#32cd32"/><rect x="14" y="360" width="1" height="37" fill="#32cd32"/><rect x="13" y="362" width="3" height="9" fill="#32cd32"/><rect x="18" y="345" width="1" height="41" fill="#32cd32"/><rect x="17" y="370" width="3" height="11" fill="#32cd32"/><rect x="22" y="338" width="1" height="53" fill="#ff0000"/><rect x="21" y="347" width="3" height="35" fill="#ff0000"/><rect x="22" y="348" width="1" height="33" fill="#ff4500"/><rect x="26" y="352" width="1" height="4" fill="#32cd32"/><rect x="25" y="352" width="3" height="4" fill="#32cd32"/><rect x="30" y="337" width="1" height="19" fill="#ff0000"/><rect x="29" y="343" width="3" height="11" fill="#ff0000"/><rect x="30" y="344" width="1" height="9" fill="#ff4500"/><rect x="34" y="332" width="1" height="34" fill="#32cd32"/><rect x="33" y="343" width="3" height="7" fill="#32cd32"/><rect x="38" y="267" width="1" height="90" fill="#ff0000"/><rect x="37" y="270" width="3" height="80" fill="#ff0000"/><rect x="38" y="271" width="1" height="78" fill="#ff4500"/><rect x="42" y="191" width="1" height="89" fill="#ff0000"/><rect x="41" y="199" width="3" height="71" fill="#ff0000"/><rect x="42" y="200" width="1" height="69" fill="#ff4500"/><rect x="46" y="157" width="1" height="49" fill="#ff0000"/><rect x="45" y="167" width="3" height="34" fill="#ff0000"/><rect x="46" y="168" width="1" height="32" fill="#ff4500"/><rect x="50" y="162" width="1" height="4" fill="#ff0000"/><rect x="49" y="162" width="3" height="3" fill="#ff0000"/><rect x="50" y="163" width="1" height="1" fill="#ff4500"/><rect x="54" y="153" width="1" height="49" fill="#32cd32"/><rect x="53" y="162" width="3" height="30" fill="#32cd32"/><rect x="58" y="171" width="1" height="33" fill="#ff0000"/><rect x="57" y="192" width="3" height="1" fill="#ff0000"/><rect x="62" y="182" width="1" height="36" fill="#32cd32"/><rect x="61" y="192" width="3" height="4" fill="#32cd32"/><rect x="66" y="182" width="1" height="21" fill="#32cd32"/><rect x="65" y="195" width="3" height="2" fill="#32cd32"/><rect x="70" y="194" width="1" height="33" fill="#32cd32"/><rect x="69" y="196" width="3" height="3" fill="#32cd32"/><rect x="74" y="205" width="1" height="3" fill="#32cd32"/><rect x="73" y="205" width="3" height="3" fill="#32cd32"/><rect x="78" y="170" width="1" height="38" fill="#ff0000"/><rect x="77" y="184" width="3" height="24" fill="#ff0000"/><rect x="78" y="185" width="1" height="22" fill="#ff4500"/><rect x="82" y="156" width="1" height="35" fill="#ff0000"/><rect x="81" y="174" width="3" height="12" fill="#ff0000"/><rect x="82" y="175" width="1" height="10" fill="#ff4500"/><rect x="86" y="133" width="1" height="45" fill="#ff0000"/><rect x="85" y="141" width="3" height="33" fill="#ff0000"/><rect x="86" y="142" width="1" height="31" fill="#ff4500"/><rect x="90" y="125" width="1" height="29" fill="#ff0000"/><rect x="89" y="135" width="3" height="7" fill="#ff0000"/><rect x="90" y="136" width="1" height="5" fill="#ff4500"/><rect x="94" y="123" width="1" height="57" fill="#32cd32"/><rect x="93" y="135" width="3" height="43" fill="#32cd32"/><rect x="98" y="167" width="1" height="5" fill="#ff0000"/><rect x="97" y="168" width="3" height="2" fill="#ff0000"/><rect x="102" y="156" width="1" height="21" fill="#ff0000"/><rect x="101" y="164" width="3" height="4" fill="#ff0000"/><rect x="102" y="165" width="1" height="2" fill="#ff4500"/><rect x="106" y="141" width="1" height="46" fill="#ff0000"/><rect x="105" y="144" width="3" height="20" fill="#ff0000"/><rect x="106" y="145" width="1" height="18" fill="#ff4500"/><rect x="110" y="128" width="1" height="37" fill="#ff0000"/><rect x="109" y="137" width="3" height="8" fill="#ff0000"/><rect x="110" y="138" width="1" height="6" fill="#ff4500"/><rect x="114" y="134" width="1" height="101" fill="#32cd32"/><rect x="113" y="137" width="3" height="86" fill="#32cd32"/><rect x="118" y="201" width="1" height="29" fill="#32cd32"/><rect x="117" y="222" width="3" height="6" fill="#32cd32"/><rect x="122" y="226" width="1" height="4" fill="#32cd32"/><rect x="121" y="226" width="3" height="3" fill="#32cd32"/><rect x="126" y="204" width="1" height="32" fill="#ff0000"/><rect x="125" y="220" width="3" height="8" fill="#ff0000"/><rect x="126" y="221" width="1" height="6" fill="#ff4500"/><rect x="130" y="182" width="1" height="44" fill="#ff0000"/><rect x="129" y="190" width="3" height="31" fill="#ff0000"/><rect x="130" y="191" width="1" height="29" fill="#ff4500"/><rect x="134" y="182" width="1" height="48" fill="#32cd32"/><rect x="133" y="190" width="3" height="33" fill="#32cd32"/><rect x="138" y="187" width="1" height="60" fill="#ff0000"/><rect x="137" y="198" width="3" height="25" fill="#ff0000"/><rect x="138" y="199" width="1" height="23" fill="#ff4500"/><rect x="142" y="179" width="1" height="24" fill="#ff0000"/><rect x="141" y="184" width="3" height="15" fill="#ff0000"/><rect x="142" y="185" width="1" height="13" fill="#ff4500"/><rect x="146" y="188" width="1" height="5" fill="#32cd32"/><rect x="145" y="188" width="3" height="5" fill="#32cd32"/><rect x="150" y="164" width="1" height="47" fill="#ff0000"/><rect x="149" y="192" width="3" height="1" fill="#ff0000"/><rect x="154" y="156" width="1" height="48" fill="#ff0000"/><rect x="153" y="172" width="3" height="20" fill="#ff0000"/><rect x="154" y="173" width="1" height="18" fill="#ff4500"/><rect x="158" y="157" width="1" height="49" fill="#32cd32"/><rect x="157" y="172" width="3" height="28" fill="#32cd32"/><rect x="162" y="180" width="1" height="38" fill="#ff0000"/><rect x="161" y="187" width="3" height="13" fill="#ff0000"/><rect x="162" y="188" width="1" height="11" fill="#ff4500"/><rect x="166" y="164" width="1" height="28" fill="#ff0000"/><rect x="165" y="180" width="3" height="9" fill="#ff0000"/><rect x="166" y="181" width="1" height="7" fill="#ff4500"/><rect x="170" y="184" width="1" height="2" fill="#ff0000"/><rect x="169" y="184" width="3" height="2" fill="#ff0000"/><rect x="174" y="180" width="1" height="43" fill="#32cd32"/><rect x="173" y="185" width="3" height="32" fill="#32cd32"/><rect x="178" y="192" width="1" height="46" fill="#32cd32"/><rect x="177" y="216" width="3" height="10" fill="#32cd32"/><rect x="182" y="207" width="1" height="56" fill="#32cd32"/><rect x="181" y="225" width="3" height="37" fill="#32cd32"/><rect x="186" y="259" width="1" height="38" fill="#32cd32"/><rect x="185" y="261" width="3" height="33" fill="#32cd32"/><rect x="190" y="279" width="1" height="29" fill="#ff0000"/><rect x="189" y="288" width="3" height="6" fill="#ff0000"/><rect x="190" y="289" width="1" height="4" fill="#ff4500"/><rect x="194" y="290" width="1" height="4" fill="#ff0000"/><rect x="193" y="290" width="3" height="4" fill="#ff0000"/><rect x="194" y="291" width="1" height="2" fill="#ff4500"/><rect x="198" y="285" width="1" height="25" fill="#32cd32"/><rect x="197" y="291" width="3" height="7" fill="#32cd32"/><rect x="202" y="293" width="1" height="28" fill="#32cd32"/><rect x="201" y="296" width="3" height="13" fill="#32cd32"/><rect x="206" y="278" width="1" height="46" fill="#ff0000"/><rect x="205" y="286" width="3" height="23" fill="#ff0000"/><rect x="206" y="287" width="1" height="21" fill="#ff4500"/><rect x="210" y="277" width="1" height="22" fill="#ff0000"/><rect x="209" y="285" width="3" height="2" fill="#ff0000"/><rect x="214" y="216" width="1" height="71" fill="#ff0000"/><rect x="213" y="219" width="3" height="67" fill="#ff0000"/><rect x="214" y="220" width="1" height="65" fill="#ff4500"/><rect x="218" y="210" width="1" height="6" fill="#32cd32"/><rect x="217" y="212" width="3" height="4" fill="#32cd32"/><rect x="222" y="174" width="1" height="51" fill="#ff0000"/><rect x="221" y="174" width="3" height="42" fill="#ff0000"/><rect x="222" y="175" width="1" height="40" fill="#ff4500"/><rect x="226" y="155" width="1" height="30" fill="#ff0000"/><rect x="225" y="158" width="3" height="17" fill="#ff0000"/><rect x="226" y="159" width="1" height="15" fill="#ff4500"/><rect x="230" y="148" width="1" height="31" fill="#32cd32"/><rect x="229" y="158" width="3" height="12" fill="#32cd32"/><rect x="234" y="150" width="1" height="23" fill="#ff0000"/><rect x="233" y="157" width="3" height="12" fill="#ff0000"/><rect x="234" y="158" width="1" height="10" fill="#ff4500"/><rect x="238" y="151" width="1" height="70" fill="#32cd32"/><rect x="237" y="157" width="3" height="63" fill="#32cd32"/><rect x="242" y="216" width="1" height="2" fill="#32cd32"/><rect x="241" y="216" width="3" height="2" fill="#32cd32"/><rect x="246" y="210" width="1" height="43" fill="#32cd32"/><rect x="245" y="217" width="3" height="23" fill="#32cd32"/><rect x="250" y="218" width="1" height="43" fill="#ff0000"/><rect x="249" y="221" width="3" height="19" fill="#ff0000"/><rect x="250" y="222" width="1" height="17" fill="#ff4500"/><rect x="254" y="184" width="1" height="54" fill="#ff0000"/><rect x="253" y="200" width="3" height="21" fill="#ff0000"/><rect x="254" y="201" width="1" height="19" fill="#ff4500"/><rect x="258" y="176" width="1" height="49" fill="#ff0000"/><rect x="257" y="190" width="3" height="11" fill="#ff0000"/><rect x="258" y="191" width="1" height="9" fill="#ff4500"/><rect x="262" y="190" width="1" height="24" fill="#32cd32"/><rect x="261" y="190" width="3" height="11" fill="#32cd32"/><rect x="266" y="200" width="1" height="3" fill="#32cd32"/><rect x="265" y="200" width="3" height="3" fill="#32cd32"/><rect x="270" y="198" width="1" height="46" fill="#32cd32"/><rect x="269" y="200" width="3" height="42" fill="#32cd32"/><rect x="274" y="229" width="1" height="24" fill="#ff0000"/><rect x="273" y="234" width="3" height="8" fill="#ff0000"/><rect x="274" y="235" width="1" height="6" fill="#ff4500"/><rect x="278" y="214" width="1" height="27" fill="#ff0000"/><rect x="277" y="231" width="3" height="5" fill="#ff0000"/><rect x="278" y="232" width="1" height="3" fill="#ff4500"/><rect x="282" y="188" width="1" height="44" fill="#ff0000"/><rect x="281" y="197" width="3" height="34" fill="#ff0000"/><rect x="282" y="198" width="1" height="32" fill="#ff4500"/><rect x="286" y="182" width="1" height="74" fill="#32cd32"/><rect x="285" y="198" width="3" height="52" fill="#32cd32"/><rect x="290" y="248" width="1" height="3" fill="#ff0000"/><rect x="289" y="248" width="3" height="3" fill="#ff0000"/><rect x="290" y="249" width="1" height="1" fill="#ff4500"/><rect x="294" y="193" width="1" height="67" fill="#ff0000"/><rect x="293" y="203" width="3" height="47" fill="#ff0000"/><rect x="294" y="204" width="1" height="45" fill="#ff4500"/><rect x="298" y="202" width="1" height="47" fill="#32cd32"/><rect x="297" y="203" width="3" height="16" fill="#32cd32"/><rect x="302" y="190" width="1" height="40" fill="#ff0000"/><rect x="301" y="216" width="3" height="2" fill="#ff0000"/><rect x="306" y="207" width="1" height="22" fill="#32cd32"/><rect x="305" y="215" width="3" height="10" fill="#32cd32"/><rect x="310" y="213" width="1" height="36" fill="#32cd32"/><rect x="309" y="224" width="3" height="11" fill="#32cd32"/><rect x="314" y="227" width="1" height="3" fill="#32cd32"/><rect x="313" y="227" width="3" height="3" fill="#32cd32"/><rect x="318" y="206" width="1" height="25" fill="#ff0000"/><rect x="317" y="221" width="3" height="9" fill="#ff0000"/><rect x="318" y="222" width="1" height="7" fill="#ff4500"/><rect x="322" y="182" width="1" height="53" fill="#ff0000"/><rect x="321" y="186" width="3" height="36" fill="#ff0000"/><rect x="322" y="187" width="1" height="34" fill="#ff4500"/><rect x="326" y="154" width="1" height="40" fill="#ff0000"/><rect x="325" y="167" width="3" height="18" fill="#ff0000"/><rect x="326" y="168" width="1" height="16" fill="#ff4500"/><rect x="330" y="163" width="1" height="51" fill="#32cd32"/><rect x="329" y="166" width="3" height="43" fill="#32cd32"/><rect x="334" y="194" width="1" height="28" fill="#ff0000"/><rect x="333" y="198" width="3" height="11" fill="#ff0000"/><rect x="334" y="199" width="1" height="9" fill="#ff4500"/><rect x="338" y="194" width="1" height="4" fill="#ff0000"/><rect x="337" y="194" width="3" height="4" fill="#ff0000"/><rect x="338" y="195" width="1" height="2" fill="#ff4500"/><rect x="342" y="149" width="1" height="48" fill="#ff0000"/><rect x="341" y="163" width="3" height="34" fill="#ff0000"/><rect x="342" y="164" width="1" height="32" fill="#ff4500"/><rect x="346" y="160" width="1" height="36" fill="#32cd32"/><rect x="345" y="163" width="3" height="18" fill="#32cd32"/><rect x="350" y="177" width="1" height="34" fill="#32cd32"/><rect x="349" y="180" width="3" height="4" fill="#32cd32"/><rect x="354" y="120" width="1" height="67" fill="#ff0000"/><rect x="353" y="124" width="3" height="60" fill="#ff0000"/><rect x="354" y="125" width="1" height="58" fill="#ff4500"/><rect x="358" y="84" width="1" height="52" fill="#ff0000"/><rect x="357" y="84" width="3" height="41" fill="#ff0000"/><rect x="358" y="85" width="1" height="39" fill="#ff4500"/><rect x="362" y="85" width="1" height="3" fill="#32cd32"/><rect x="361" y="85" width="3" height="3" fill="#32cd32"/><rect x="366" y="78" width="1" height="49" fill="#32cd32"/><rect x="365" y="87" width="3" height="35" fill="#32cd32"/><rect x="370" y="116" width="1" height="46" fill="#32cd32"/><rect x="369" y="121" width="3" height="34" fill="#32cd32"/><rect x="374" y="125" width="1" height="45" fill="#ff0000"/><rect x="373" y="131" width="3" height="24" fill="#ff0000"/><rect x="374" y="132" width="1" height="22" fill="#ff4500"/><rect x="378" y="124" width="1" height="45" fill="#32cd32"/><rect x="377" y="132" width="3" height="13" fill="#32cd32"/><rect x="382" y="134" width="1" height="30" fill="#ff0000"/><rect x="381" y="142" width="3" height="3" fill="#ff0000"/><rect x="382" y="143" width="1" height="1" fill="#ff4500"/><rect x="386" y="143" width="1" height="3" fill="#32cd32"/><rect x="385" y="143" width="3" height="3" fill="#32cd32"/><rect x="390" y="110" width="1" height="38" fill="#ff0000"/><rect x="389" y="137" width="3" height="11" fill="#ff0000"/><rect x="390" y="138" width="1" height="9" fill="#ff4500"/><rect x="394" y="103" width="1" height="35" fill="#ff0000"/><rect x="393" y="110" width="3" height="28" fill="#ff0000"/><rect x="394" y="111" width="1" height="26" fill="#ff4500"/><rect x="398" y="60" width="1" height="60" fill="#ff0000"/><rect x="397" y="69" width="3" height="41" fill="#ff0000"/><rect x="398" y="70" width="1" height="39" fill="#ff4500"/><rect x="402" y="50" width="1" height="47" fill="#32cd32"/><rect x="401" y="70" width="3" height="14" fill="#32cd32"/><rect x="406" y="74" width="1" height="44" fill="#32cd32"/><rect x="405" y="83" width="3" height="20" fill="#32cd32"/><rect x="410" y="104" width="1" height="4" fill="#32cd32"/><rect x="409" y="104" width="3" height="4" fill="#32cd32"/><rect x="414" y="95" width="1" height="63" fill="#32cd32"/><rect x="413" y="106" width="3" height="37" fill="#32cd32"/><rect x="418" y="113" width="1" height="33" fill="#ff0000"/><rect x="417" y="115" width="3" height="28" fill="#ff0000"/><rect x="418" y="116" width="1" height="26" fill="#ff4500"/><rect x="422" y="97" width="1" height="28" fill="#32cd32"/><rect x="421" y="115" width="3" height="6" fill="#32cd32"/><rect x="426" y="109" width="1" height="32" fill="#ff0000"/><rect x="425" y="114" width="3" height="7" fill="#ff0000"/><rect x="426" y="115" width="1" height="5" fill="#ff4500"/><rect x="430" y="99" width="1" height="37" fill="#32cd32"/><rect x="429" y="114" width="3" height="17" fill="#32cd32"/><rect x="434" y="119" width="1" height="7" fill="#ff0000"/><rect x="433" y="120" width="3" height="5" fill="#ff0000"/><rect x="434" y="121" width="1" height="3" fill="#ff4500"/><rect x="438" y="113" width="1" height="30" fill="#32cd32"/><rect x="437" y="120" width="3" height="3" fill="#32cd32"/><rect x="442" y="93" width="1" height="44" fill="#ff0000"/><rect x="441" y="98" width="3" height="24" fill="#ff0000"/><rect x="442" y="99" width="1" height="22" fill="#ff4500"/><rect x="446" y="97" width="1" height="59" fill="#32cd32"/><rect x="445" y="98" width="3" height="52" fill="#32cd32"/><rect x="450" y="147" width="1" height="40" fill="#ff0000"/><rect x="449" y="147" width="3" height="3" fill="#ff0000"/><rect x="450" y="148" width="1" height="1" fill="#ff4500"/><rect x="454" y="131" width="1" height="32" fill="#32cd32"/><rect x="453" y="147" width="3" height="14" fill="#32cd32"/><rect x="458" y="154" width="1" height="6" fill="#ff0000"/><rect x="457" y="154" width="3" height="4" fill="#ff0000"/><rect x="458" y="155" width="1" height="2" fill="#ff4500"/><rect x="462" y="124" width="1" height="40" fill="#000000"/><rect x="461" y="154" width="3" height="1" fill="#000000"/><rect x="466" y="154" width="1" height="40" fill="#32cd32"/><rect x="465" y="154" width="3" height="3" fill="#32cd32"/><rect x="470" y="141" width="1" height="52" fill="#32cd32"/><rect x="469" y="158" width="3" height="32" fill="#32cd32"/><rect x="474" y="177" width="1" height="28" fill="#32cd32"/><rect x="473" y="190" width="3" height="7" fill="#32cd32"/><rect x="478" y="193" width="1" height="27" fill="#32cd32"/><rect x="477" y="196" width="3" height="17" fill="#32cd32"/><rect x="482" y="206" width="1" height="7" fill="#ff0000"/><rect x="481" y="208" width="3" height="5" fill="#ff0000"/><rect x="482" y="209" width="1" height="3" fill="#ff4500"/><rect x="486" y="180" width="1" height="42" fill="#ff0000"/><rect x="485" y="182" width="3" height="27" fill="#ff0000"/><rect x="486" y="183" width="1" height="25" fill="#ff4500"/><rect x="490" y="161" width="1" height="32" fill="#32cd32"/><rect x="489" y="182" width="3" height="3" fill="#32cd32"/><rect x="494" y="181" width="1" height="29" fill="#32cd32"/><rect x="493" y="184" width="3" height="13" fill="#32cd32"/><rect x="498" y="186" width="1" height="65" fill="#32cd32"/><rect x="497" y="196" width="3" height="51" fill="#32cd32"/><rect x="502" y="200" width="1" height="59" fill="#ff0000"/><rect x="501" y="217" width="3" height="30" fill="#ff0000"/><rect x="502" y="218" width="1" height="28" fill="#ff4500"/><rect x="506" y="211" width="1" height="5" fill="#ff0000"/><rect x="505" y="211" width="3" height="5" fill="#ff0000"/><rect x="506" y="212" width="1" height="3" fill="#ff4500"/><rect x="510" y="204" width="1" height="66" fill="#32cd32"/><rect x="509" y="212" width="3" height="53" fill="#32cd32"/><rect x="514" y="220" width="1" height="47" fill="#ff0000"/><rect x="513" y="222" width="3" height="44" fill="#ff0000"/><rect x="514" y="223" width="1" height="42" fill="#ff4500"/><rect x="518" y="220" width="1" height="37" fill="#32cd32"/><rect x="517" y="222" width="3" height="28" fill="#32cd32"/><rect x="522" y="225" width="1" height="27" fill="#ff0000"/><rect x="521" y="239" width="3" height="12" fill="#ff0000"/><rect x="522" y="240" width="1" height="10" fill="#ff4500"/><rect x="526" y="201" width="1" height="50" fill="#32cd32"/><rect x="525" y="240" width="3" height="1" fill="#32cd32"/><rect x="530" y="241" width="1" height="6" fill="#32cd32"/><rect x="529" y="244" width="3" height="1" fill="#32cd32"/><rect x="534" y="215" width="1" height="30" fill="#ff0000"/><rect x="533" y="233" width="3" height="11" fill="#ff0000"/><rect x="534" y="234" width="1" height="9" fill="#ff4500"/><rect x="538" y="218" width="1" height="40" fill="#32cd32"/><rect x="537" y="233" width="3" height="19" fill="#32cd32"/><rect x="542" y="192" width="1" height="62" fill="#ff0000"/><rect x="541" y="197" width="3" height="56" fill="#ff0000"/><rect x="542" y="198" width="1" height="54" fill="#ff4500"/><rect x="546" y="162" width="1" height="36" fill="#ff0000"/><rect x="545" y="172" width="3" height="26" fill="#ff0000"/><rect x="546" y="173" width="1" height="24" fill="#ff4500"/><rect x="550" y="152" width="1" height="27" fill="#32cd32"/><rect x="549" y="172" width="3" height="4" fill="#32cd32"/><rect x="554" y="172" width="1" height="4" fill="#ff0000"/><rect x="553" y="174" width="3" height="1" fill="#ff0000"/><rect x="558" y="136" width="1" height="56" fill="#ff0000"/><rect x="557" y="140" width="3" height="34" fill="#ff0000"/><rect x="558" y="141" width="1" height="32" fill="#ff4500"/><rect x="562" y="94" width="1" height="58" fill="#ff0000"/><rect x="561" y="100" width="3" height="40" fill="#ff0000"/><rect x="562" y="101" width="1" height="38" fill="#ff4500"/><rect x="566" y="80" width="1" height="42" fill="#32cd32"/><rect x="565" y="100" width="3" height="15" fill="#32cd32"/><rect x="570" y="110" width="1" height="33" fill="#32cd32"/><rect x="569" y="114" width="3" height="22" fill="#32cd32"/><rect x="574" y="111" width="1" height="32" fill="#ff0000"/><rect x="573" y="115" width="3" height="22" fill="#ff0000"/><rect x="574" y="116" width="1" height="20" fill="#ff4500"/><rect x="578" y="107" width="1" height="9" fill="#ff0000"/><rect x="577" y="110" width="3" height="5" fill="#ff0000"/><rect x="578" y="111" width="1" height="3" fill="#ff4500"/><rect x="582" y="76" width="1" height="54" fill="#ff0000"/><rect x="581" y="83" width="3" height="27" fill="#ff0000"/><rect x="582" y="84" width="1" height="25" fill="#ff4500"/><rect x="586" y="69" width="1" height="32" fill="#ff0000"/><rect x="585" y="76" width="3" height="8" fill="#ff0000"/><rect x="586" y="77" width="1" height="6" fill="#ff4500"/><rect x="590" y="46" width="1" height="36" fill="#ff0000"/><rect x="589" y="72" width="3" height="5" fill="#ff0000"/><rect x="590" y="73" width="1" height="3" fill="#ff4500"/><rect x="594" y="55" width="1" height="30" fill="#ff0000"/><rect x="593" y="62" width="3" height="10" fill="#ff0000"/><rect x="594" y="63" width="1" height="8" fill="#ff4500"/><rect x="598" y="60" width="1" height="111" fill="#32cd32"/><rect x="597" y="61" width="3" height="109" fill="#32cd32"/><rect x="602" y="140" width="1" height="24" fill="#ff0000"/><rect x="601" y="147" width="3" height="12" fill="#ff0000"/><rect x="602" y="148" width="1" height="10" fill="#ff4500"/><rect x="606" y="125" width="1" height="37" fill="#32cd32"/><rect x="605" y="147" width="3" height="13" fill="#32cd32"/><rect x="610" y="130" width="1" height="86" fill="#32cd32"/><rect x="609" y="159" width="3" height="26" fill="#32cd32"/><rect x="614" y="168" width="1" height="38" fill="#ff0000"/><rect x="613" y="177" width="3" height="8" fill="#ff0000"/><rect x="614" y="178" width="1" height="6" fill="#ff4500"/><rect x="618" y="165" width="1" height="35" fill="#32cd32"/><rect x="617" y="177" width="3" height="7" fill="#32cd32"/><rect x="622" y="168" width="1" height="40" fill="#32cd32"/><rect x="621" y="183" width="3" height="17" fill="#32cd32"/><rect x="626" y="192" width="1" height="13" fill="#ff0000"/><rect x="625" y="193" width="3" height="12" fill="#ff0000"/><rect x="626" y="194" width="1" height="10" fill="#ff4500"/><rect x="630" y="128" width="1" height="66" fill="#ff0000"/><rect x="629" y="138" width="3" height="55" fill="#ff0000"/><rect x="630" y="139" width="1" height="53" fill="#ff4500"/><rect x="634" y="123" width="1" height="35" fill="#32cd32"/><rect x="633" y="138" width="3" height="8" fill="#32cd32"/><rect x="638" y="140" width="1" height="48" fill="#32cd32"/><rect x="637" y="146" width="3" height="35" fill="#32cd32"/><rect x="642" y="131" width="1" height="51" fill="#ff0000"/><rect x="641" y="152" width="3" height="29" fill="#ff0000"/><rect x="642" y="153" width="1" height="27" fill="#ff4500"/><rect x="646" y="139" width="1" height="44" fill="#32cd32"/><rect x="645" y="152" width="3" height="22" fill="#32cd32"/><rect x="650" y="171" width="1" height="9" fill="#ff0000"/><rect x="649" y="171" width="3" height="9" fill="#ff0000"/><rect x="650" y="172" width="1" height="7" fill="#ff4500"/><rect x="654" y="137" width="1" height="40" fill="#ff0000"/><rect x="653" y="163" width="3" height="8" fill="#ff0000"/><rect x="654" y="164" width="1" height="6" fill="#ff4500"/><rect x="658" y="146" width="1" height="46" fill="#ff0000"/><rect x="657" y="149" width="3" height="15" fill="#ff0000"/><rect x="658" y="150" width="1" height="13" fill="#ff4500"/><rect x="662" y="108" width="1" height="48" fill="#ff0000"/><rect x="661" y="148" width="3" height="2" fill="#ff0000"/><rect x="666" y="137" width="1" height="54" fill="#32cd32"/><rect x="665" y="147" width="3" height="43" fill="#32cd32"/><rect x="670" y="146" width="1" height="56" fill="#ff0000"/><rect x="669" y="152" width="3" height="38" fill="#ff0000"/><rect x="670" y="153" width="1" height="36" fill="#ff4500"/><rect x="674" y="146" width="1" height="10" fill="#32cd32"/><rect x="673" y="148" width="3" height="8" fill="#32cd32"/><rect x="678" y="142" width="1" height="46" fill="#32cd32"/><rect x="677" y="155" width="3" height="14" fill="#32cd32"/><rect x="682" y="139" width="1" height="46" fill="#ff0000"/><rect x="681" y="158" width="3" height="10" fill="#ff0000"/><rect x="682" y="159" width="1" height="8" fill="#ff4500"/><rect x="686" y="141" width="1" height="49" fill="#32cd32"/><rect x="685" y="158" width="3" height="29" fill="#32cd32"/><rect x="690" y="166" width="1" height="36" fill="#32cd32"/><rect x="689" y="185" width="3" height="11" fill="#32cd32"/><rect x="694" y="184" width="1" height="26" fill="#ff0000"/><rect x="693" y="192" width="3" height="4" fill="#ff0000"/><rect x="694" y="193" width="1" height="2" fill="#ff4500"/><rect x="698" y="190" width="1" height="12" fill="#ff0000"/><rect x="697" y="190" width="3" height="3" fill="#ff0000"/><rect x="698" y="191" width="1" height="1" fill="#ff4500"/><rect x="702" y="182" width="1" height="26" fill="#32cd32"/><rect x="701" y="190" width="3" height="15" fill="#32cd32"/><rect x="706" y="189" width="1" height="25" fill="#32cd32"/><rect x="705" y="205" width="3" height="1" fill="#32cd32"/><rect x="710" y="181" width="1" height="59" fill="#32cd32"/><rect x="709" y="204" width="3" height="26" fill="#32cd32"/><rect x="714" y="196" width="1" height="40" fill="#000000"/><rect x="713" y="229" width="3" height="1" fill="#000000"/><rect x="718" y="222" width="1" height="37" fill="#32cd32"/><rect x="717" y="229" width="3" height="17" fill="#32cd32"/><rect x="722" y="240" width="1" height="18" fill="#ff0000"/><rect x="721" y="244" width="3" height="14" fill="#ff0000"/><rect x="722" y="245" width="1" height="12" fill="#ff4500"/><rect x="726" y="182" width="1" height="66" fill="#ff0000"/><rect x="725" y="195" width="3" height="50" fill="#ff0000"/><rect x="726" y="196" width="1" height="48" fill="#ff4500"/><rect x="730" y="187" width="1" height="45" fill="#32cd32"/><rect x="729" y="195" width="3" height="17" fill="#32cd32"/><rect x="734" y="194" width="1" height="35" fill="#ff0000"/><rect x="733" y="202" width="3" height="10" fill="#ff0000"/><rect x="734" y="203" width="1" height="8" fill="#ff4500"/><rect x="738" y="163" width="1" height="44" fill="#ff0000"/><rect x="737" y="170" width="3" height="32" fill="#ff0000"/><rect x="738" y="171" width="1" height="30" fill="#ff4500"/><rect x="742" y="156" width="1" height="39" fill="#32cd32"/><rect x="741" y="170" width="3" height="24" fill="#32cd32"/><rect x="746" y="187" width="1" height="6" fill="#ff0000"/><rect x="745" y="190" width="3" height="3" fill="#ff0000"/><rect x="746" y="191" width="1" height="1" fill="#ff4500"/><rect x="750" y="123" width="1" height="69" fill="#ff0000"/><rect x="749" y="125" width="3" height="66" fill="#ff0000"/><rect x="750" y="126" width="1" height="64" fill="#ff4500"/><rect x="754" y="120" width="1" height="39" fill="#32cd32"/><rect x="753" y="125" width="3" height="29" fill="#32cd32"/><rect x="758" y="147" width="1" height="90" fill="#32cd32"/><rect x="757" y="154" width="3" height="74" fill="#32cd32"/><rect x="762" y="222" width="1" height="45" fill="#32cd32"/><rect x="761" y="227" width="3" height="25" fill="#32cd32"/><rect x="766" y="227" width="1" height="38" fill="#ff0000"/><rect x="765" y="230" width="3" height="22" fill="#ff0000"/><rect x="766" y="231" width="1" height="20" fill="#ff4500"/><rect x="770" y="222" width="1" height="15" fill="#ff0000"/><rect x="769" y="225" width="3" height="12" fill="#ff0000"/><rect x="770" y="226" width="1" height="10" fill="#ff4500"/><rect x="774" y="214" width="1" height="30" fill="#32cd32"/><rect x="773" y="225" width="3" height="5" fill="#32cd32"/><rect x="778" y="198" width="1" height="38" fill="#ff0000"/><rect x="777" y="204" width="3" height="26" fill="#ff0000"/><rect x="778" y="205" width="1" height="24" fill="#ff4500"/><rect x="782" y="199" width="1" height="27" fill="#32cd32"/><rect x="781" y="204" width="3" height="13" fill="#32cd32"/><rect x="786" y="196" width="1" height="33" fill="#ff0000"/><rect x="785" y="206" width="3" height="11" fill="#ff0000"/><rect x="786" y="207" width="1" height="9" fill="#ff4500"/><rect x="790" y="203" width="1" height="51" fill="#32cd32"/><rect x="789" y="205" width="3" height="43" fill="#32cd32"/><rect x="794" y="239" width="1" height="12" fill="#ff0000"/><rect x="793" y="239" width="3" height="12" fill="#ff0000"/><rect x="794" y="240" width="1" height="10" fill="#ff4500"/><rect x="798" y="214" width="1" height="40" fill="#ff0000"/><rect x="797" y="227" width="3" height="13" fill="#ff0000"/><rect x="798" y="228" width="1" height="11" fill="#ff4500"/><rect x="802" y="179" width="1" height="50" fill="#ff0000"/><rect x="801" y="198" width="3" height="31" fill="#ff0000"/><rect x="802" y="199" width="1" height="29" fill="#ff4500"/><rect x="806" y="146" width="1" height="58" fill="#ff0000"/><rect x="805" y="150" width="3" height="48" fill="#ff0000"/><rect x="806" y="151" width="1" height="46" fill="#ff4500"/><rect x="810" y="74" width="1" height="79" fill="#ff0000"/><rect x="809" y="95" width="3" height="55" fill="#ff0000"/><rect x="810" y="96" width="1" height="53" fill="#ff4500"/><rect x="814" y="80" width="1" height="32" fill="#32cd32"/><rect x="813" y="95" width="3" height="1" fill="#32cd32"/><rect x="818" y="89" width="1" height="10" fill="#ff0000"/><rect x="817" y="94" width="3" height="5" fill="#ff0000"/><rect x="818" y="95" width="1" height="3" fill="#ff4500"/><rect x="822" y="70" width="1" height="72" fill="#32cd32"/><rect x="821" y="94" width="3" height="33" fill="#32cd32"/><rect x="826" y="121" width="1" height="58" fill="#32cd32"/><rect x="825" y="126" width="3" height="48" fill="#32cd32"/><rect x="830" y="164" width="1" height="36" fill="#32cd32"/><rect x="829" y="173" width="3" height="17" fill="#32cd32"/><rect x="834" y="154" width="1" height="46" fill="#ff0000"/><rect x="833" y="179" width="3" height="9" fill="#ff0000"/><rect x="834" y="180" width="1" height="7" fill="#ff4500"/><rect x="838" y="136" width="1" height="51" fill="#ff0000"/><rect x="837" y="138" width="3" height="41" fill="#ff0000"/><rect x="838" y="139" width="1" height="39" fill="#ff4500"/><rect x="842" y="137" width="1" height="7" fill="#32cd32"/><rect x="841" y="138" width="3" height="4" fill="#32cd32"/><rect x="846" y="133" width="1" height="33" fill="#32cd32"/><rect x="845" y="141" width="3" height="18" fill="#32cd32"/><rect x="850" y="132" width="1" height="30" fill="#ff0000"/><rect x="849" y="142" width="3" height="15" fill="#ff0000"/><rect x="850" y="143" width="1" height="13" fill="#ff4500"/><rect x="854" y="139" width="1" height="25" fill="#32cd32"/><rect x="853" y="142" width="3" height="7" fill="#32cd32"/><rect x="858" y="105" width="1" height="57" fill="#ff0000"/><rect x="857" y="136" width="3" height="13" fill="#ff0000"/><rect x="858" y="137" width="1" height="11" fill="#ff4500"/><rect x="862" y="113" width="1" height="37" fill="#32cd32"/><rect x="861" y="136" width="3" height="4" fill="#32cd32"/><rect x="866" y="139" width="1" height="8" fill="#ff0000"/><rect x="865" y="144" width="3" height="3" fill="#ff0000"/><rect x="866" y="145" width="1" height="1" fill="#ff4500"/><rect x="870" y="125" width="1" height="28" fill="#32cd32"/><rect x="869" y="144" width="3" height="3" fill="#32cd32"/><rect x="874" y="124" width="1" height="38" fill="#ff0000"/><rect x="873" y="138" width="3" height="9" fill="#ff0000"/><rect x="874" y="139" width="1" height="7" fill="#ff4500"/><rect x="878" y="134" width="1" height="44" fill="#32cd32"/><rect x="877" y="138" width="3" height="30" fill="#32cd32"/><rect x="882" y="159" width="1" height="33" fill="#32cd32"/><rect x="881" y="167" width="3" height="17" fill="#32cd32"/><rect x="886" y="167" width="1" height="22" fill="#ff0000"/><rect x="885" y="173" width="3" height="11" fill="#ff0000"/><rect x="886" y="174" width="1" height="9" fill="#ff4500"/><rect x="890" y="170" width="1" height="7" fill="#32cd32"/><rect x="889" y="174" width="3" height="1" fill="#32cd32"/><rect x="894" y="169" width="1" height="52" fill="#32cd32"/><rect x="893" y="174" width="3" height="40" fill="#32cd32"/><rect x="898" y="160" width="1" height="60" fill="#ff0000"/><rect x="897" y="169" width="3" height="45" fill="#ff0000"/><rect x="898" y="170" width="1" height="43" fill="#ff4500"/><rect x="902" y="167" width="1" height="40" fill="#32cd32"/><rect x="901" y="169" width="3" height="33" fill="#32cd32"/><rect x="906" y="112" width="1" height="92" fill="#ff0000"/><rect x="905" y="136" width="3" height="66" fill="#ff0000"/><rect x="906" y="137" width="1" height="64" fill="#ff4500"/><rect x="910" y="116" width="1" height="46" fill="#ff0000"/><rect x="909" y="131" width="3" height="7" fill="#ff0000"/><rect x="910" y="132" width="1" height="5" fill="#ff4500"/><rect x="914" y="122" width="1" height="20" fill="#ff0000"/><rect x="913" y="128" width="3" height="6" fill="#ff0000"/><rect x="914" y="129" width="1" height="4" fill="#ff4500"/><rect x="918" y="121" width="1" height="88" fill="#32cd32"/><rect x="917" y="129" width="3" height="72" fill="#32cd32"/><rect x="922" y="177" width="1" height="45" fill="#ff0000"/><rect x="921" y="193" width="3" height="8" fill="#ff0000"/><rect x="922" y="194" width="1" height="6" fill="#ff4500"/>
<path d="M108 414h4v1h-4zM92 415h16v1h-16zM112 415h4v1h-4zM88 416h4v1h-4zM116 416h3v1h-3zM85 417h3v1h-3zM119 417h2v1h-2zM83 418h2v1h-2zM121 418h2v1h-2zM81 419h2v1h-2zM123 419h1v1h-1zM79 420h2v1h-2zM124 420h2v1h-2zM78 421h1v1h-1zM126 421h1v1h-1zM76 422h2v1h-2zM127 422h2v1h-2zM75 423h1v1h-1zM129 423h2v1h-2zM74 424h1v1h-1zM131 424h1v1h-1zM73 425h1v1h-1zM132 425h2v1h-2zM72 426h1v1h-1zM134 426h1v1h-1zM71 427h1v1h-1zM135 427h2v1h-2zM70 428h1v1h-1zM137 428h2v1h-2zM388 428h8v1h-8zM408 428h4v1h-4zM69 429h1v1h-1zM139 429h1v1h-1zM384 429h4v1h-4zM396 429h12v1h-12zM412 429h16v1h-16zM600 429h12v1h-12zM140 430h2v1h-2zM380 430h4v1h-4zM428 430h4v1h-4zM596 430h4v1h-4zM612 430h3v1h-3zM68 430h1v2h-1zM142 431h1v1h-1zM376 431h4v1h-4zM432 431h4v1h-4zM594 431h2v1h-2zM615 431h2v1h-2zM67 432h1v1h-1zM143 432h1v1h-1zM373 432h3v1h-3zM436 432h4v1h-4zM593 432h1v1h-1zM617 432h2v1h-2zM66 433h1v1h-1zM144 433h2v1h-2zM371 433h2v1h-2zM440 433h3v1h-3zM592 433h1v1h-1zM619 433h1v1h-1zM65 434h1v1h-1zM146 434h1v1h-1zM369 434h2v1h-2zM443 434h2v1h-2zM591 434h1v1h-1zM620 434h2v1h-2zM147 435h2v1h-2zM367 435h2v1h-2zM445 435h3v1h-3zM590 435h1v1h-1zM622 435h1v1h-1zM64 435h1v2h-1zM149 436h3v1h-3zM365 436h2v1h-2zM448 436h3v1h-3zM588 436h2v1h-2zM623 436h1v1h-1zM844 436h8v1h-8zM63 437h1v1h-1zM152 437h4v1h-4zM363 437h2v1h-2zM451 437h2v1h-2zM587 437h1v1h-1zM624 437h2v1h-2zM840 437h4v1h-4zM852 437h8v1h-8zM62 438h1v1h-1zM156 438h4v1h-4zM362 438h1v1h-1zM453 438h3v1h-3zM586 438h1v1h-1zM626 438h1v1h-1zM838 438h2v1h-2zM860 438h20v1h-20zM61 439h1v1h-1zM160 439h12v1h-12zM360 439h2v1h-2zM456 439h3v1h-3zM585 439h1v1h-1zM627 439h1v1h-1zM836 439h2v1h-2zM880 439h4v1h-4zM172 440h4v1h-4zM359 440h1v1h-1zM459 440h2v1h-2zM584 440h1v1h-1zM628 440h1v1h-1zM835 440h1v1h-1zM884 440h4v1h-4zM60 440h1v2h-1zM176 441h4v1h-4zM357 441h2v1h-2zM461 441h2v1h-2zM583 441h1v1h-1zM629 441h1v1h-1zM833 441h2v1h-2zM888 441h4v1h-4zM59 442h1v1h-1zM180 442h3v1h-3zM355 442h2v1h-2zM463 442h2v1h-2zM582 442h1v1h-1zM630 442h1v1h-1zM831 442h2v1h-2zM892 442h3v1h-3zM58 443h1v1h-1zM183 443h2v1h-2zM352 443h3v1h-3zM465 443h2v1h-2zM580 443h2v1h-2zM631 443h2v1h-2zM829 443h2v1h-2zM895 443h2v1h-2zM185 444h2v1h-2zM256 444h16v1h-16zM348 444h4v1h-4zM467 444h2v1h-2zM579 444h1v1h-1zM633 444h2v1h-2zM827 444h2v1h-2zM897 444h2v1h-2zM57 444h1v2h-1zM187 445h2v1h-2zM253 445h3v1h-3zM272 445h4v1h-4zM345 445h3v1h-3zM469 445h2v1h-2zM578 445h1v1h-1zM635 445h2v1h-2zM826 445h1v1h-1zM899 445h2v1h-2zM56 446h1v1h-1zM189 446h2v1h-2zM251 446h2v1h-2zM276 446h12v1h-12zM343 446h2v1h-2zM471 446h2v1h-2zM577 446h1v1h-1zM637 446h2v1h-2zM824 446h2v1h-2zM901 446h3v1h-3zM191 447h1v1h-1zM249 447h2v1h-2zM288 447h4v1h-4zM340 447h3v1h-3zM473 447h2v1h-2zM576 447h1v1h-1zM639 447h2v1h-2zM823 447h1v1h-1zM904 447h4v1h-4zM55 447h1v2h-1zM192 448h2v1h-2zM247 448h2v1h-2zM292 448h8v1h-8zM332 448h8v1h-8zM475 448h2v1h-2zM575 448h1v1h-1zM641 448h3v1h-3zM822 448h1v1h-1zM908 448h8v1h-8zM54 449h1v1h-1zM194 449h1v1h-1zM246 449h1v1h-1zM300 449h4v1h-4zM324 449h8v1h-8zM477 449h2v1h-2zM574 449h1v1h-1zM644 449h4v1h-4zM820 449h2v1h-2zM916 449h7v1h-7zM53 450h1v1h-1zM195 450h1v1h-1zM244 450h2v1h-2zM304 450h12v1h-12zM320 450h4v1h-4zM479 450h1v1h-1zM573 450h1v1h-1zM648 450h4v1h-4zM819 450h1v1h-1zM196 451h2v1h-2zM243 451h1v1h-1zM316 451h4v1h-4zM480 451h2v1h-2zM572 451h1v1h-1zM652 451h44v1h-44zM818 451h1v1h-1zM52 451h1v2h-1zM198 452h1v1h-1zM242 452h1v1h-1zM482 452h1v1h-1zM571 452h1v1h-1zM696 452h4v1h-4zM816 452h2v1h-2zM51 453h1v1h-1zM199 453h1v1h-1zM240 453h2v1h-2zM483 453h2v1h-2zM570 453h1v1h-1zM700 453h4v1h-4zM815 453h1v1h-1zM50 454h1v1h-1zM200 454h2v1h-2zM239 454h1v1h-1zM485 454h2v1h-2zM569 454h1v1h-1zM704 454h4v1h-4zM813 454h2v1h-2zM49 455h1v1h-1zM202 455h1v1h-1zM238 455h1v1h-1zM487 455h2v1h-2zM568 455h1v1h-1zM708 455h4v1h-4zM764 455h20v1h-20zM811 455h2v1h-2zM48 456h1v1h-1zM203 456h1v1h-1zM236 456h2v1h-2zM489 456h2v1h-2zM567 456h1v1h-1zM712 456h3v1h-3zM760 456h4v1h-4zM784 456h4v1h-4zM809 456h2v1h-2zM47 457h1v1h-1zM204 457h1v1h-1zM235 457h1v1h-1zM491 457h2v1h-2zM566 457h1v1h-1zM715 457h2v1h-2zM757 457h3v1h-3zM788 457h4v1h-4zM807 457h2v1h-2zM46 458h1v1h-1zM205 458h1v1h-1zM234 458h1v1h-1zM493 458h2v1h-2zM565 458h1v1h-1zM717 458h2v1h-2zM755 458h2v1h-2zM792 458h15v1h-15zM45 459h1v1h-1zM206 459h1v1h-1zM232 459h2v1h-2zM495 459h2v1h-2zM564 459h1v1h-1zM719 459h2v1h-2zM753 459h2v1h-2zM44 460h1v1h-1zM207 460h1v1h-1zM231 460h1v1h-1zM497 460h2v1h-2zM563 460h1v1h-1zM721 460h3v1h-3zM751 460h2v1h-2zM43 461h1v1h-1zM208 461h2v1h-2zM229 461h2v1h-2zM499 461h2v1h-2zM562 461h1v1h-1zM724 461h4v1h-4zM748 461h3v1h-3zM41 462h2v1h-2zM210 462h1v1h-1zM227 462h2v1h-2zM501 462h3v1h-3zM560 462h2v1h-2zM728 462h4v1h-4zM744 462h4v1h-4zM39 463h2v1h-2zM211 463h2v1h-2zM225 463h2v1h-2zM504 463h3v1h-3zM559 463h1v1h-1zM732 463h12v1h-12zM36 464h3v1h-3zM213 464h3v1h-3zM223 464h2v1h-2zM507 464h2v1h-2zM557 464h2v1h-2zM32 465h4v1h-4zM216 465h7v1h-7zM509 465h3v1h-3zM555 465h2v1h-2zM24 466h8v1h-8zM512 466h4v1h-4zM553 466h2v1h-2zM20 467h4v1h-4zM516 467h4v1h-4zM551 467h2v1h-2zM16 468h4v1h-4zM520 468h4v1h-4zM549 468h2v1h-2zM12 469h4v1h-4zM524 469h4v1h-4zM547 469h2v1h-2zM8 470h4v1h-4zM528 470h8v1h-8zM544 470h3v1h-3zM5 471h3v1h-3zM536 471h8v1h-8zM3 472h2v1h-2zM2 473h1v1h-1z" fill="#ff0000"/><path d="M45 498h6v1h-6zM43 499h2v1h-2zM51 499h1v1h-1zM86 499h5v1h-5zM42 500h1v1h-1zM84 500h2v1h-2zM52 500h1v2h-1zM91 500h1v2h-1zM83 501h1v1h-1zM41 501h1v2h-1zM53 502h1v1h-1zM80 502h3v1h-3zM358 502h5v1h-5zM592 502h2v1h-2zM92 502h1v2h-1zM594 502h1v2h-1zM40 503h1v1h-1zM54 503h10v1h-10zM78 503h2v1h-2zM106 503h4v1h-4zM356 503h2v1h-2zM584 503h8v1h-8zM110 503h1v2h-1zM363 503h1v2h-1zM64 504h7v1h-7zM76 504h2v1h-2zM104 504h2v1h-2zM355 504h1v1h-1zM398 504h1v1h-1zM562 504h1v1h-1zM581 504h3v1h-3zM810 504h9v1h-9zM39 504h1v2h-1zM93 504h1v2h-1zM595 504h1v4h-1zM71 505h2v1h-2zM75 505h1v1h-1zM103 505h1v1h-1zM225 505h2v1h-2zM354 505h1v1h-1zM364 505h1v1h-1zM397 505h1v1h-1zM399 505h2v1h-2zM560 505h2v1h-2zM563 505h2v1h-2zM579 505h2v1h-2zM809 505h1v1h-1zM819 505h1v1h-1zM111 505h1v3h-1zM73 506h2v1h-2zM96 506h7v1h-7zM223 506h2v1h-2zM227 506h2v1h-2zM232 506h2v1h-2zM396 506h1v1h-1zM401 506h2v1h-2zM559 506h1v1h-1zM565 506h2v1h-2zM576 506h3v1h-3zM808 506h1v1h-1zM38 506h1v2h-1zM94 506h1v2h-1zM234 506h1v2h-1zM353 506h1v2h-1zM365 506h1v2h-1zM820 506h1v2h-1zM95 507h1v1h-1zM222 507h1v1h-1zM229 507h3v1h-3zM395 507h1v1h-1zM403 507h1v1h-1zM558 507h1v1h-1zM567 507h1v1h-1zM573 507h3v1h-3zM807 507h1v1h-1zM750 507h1v2h-1zM221 508h1v1h-1zM325 508h2v1h-2zM342 508h1v1h-1zM366 508h1v1h-1zM394 508h1v1h-1zM404 508h2v1h-2zM557 508h1v1h-1zM568 508h2v1h-2zM571 508h2v1h-2zM751 508h1v1h-1zM806 508h1v1h-1zM821 508h1v1h-1zM235 508h1v2h-1zM352 508h1v2h-1zM37 508h1v3h-1zM112 508h1v4h-1zM596 508h1v4h-1zM220 509h1v1h-1zM323 509h2v1h-2zM341 509h1v1h-1zM343 509h1v1h-1zM367 509h1v1h-1zM392 509h2v1h-2zM406 509h2v1h-2zM442 509h1v1h-1zM556 509h1v1h-1zM570 509h1v1h-1zM752 509h1v1h-1zM822 509h1v1h-1zM327 509h1v2h-1zM749 509h1v2h-1zM805 509h1v2h-1zM153 510h2v1h-2zM219 510h1v1h-1zM322 510h1v1h-1zM340 510h1v1h-1zM344 510h2v1h-2zM368 510h1v1h-1zM373 510h3v1h-3zM391 510h1v1h-1zM408 510h3v1h-3zM441 510h1v1h-1zM555 510h1v1h-1zM753 510h1v1h-1zM823 510h1v1h-1zM912 510h2v1h-2zM236 510h1v2h-1zM351 510h1v2h-1zM443 510h1v2h-1zM914 510h1v2h-1zM130 511h1v1h-1zM141 511h3v1h-3zM151 511h2v1h-2zM155 511h1v1h-1zM164 511h4v1h-4zM216 511h3v1h-3zM256 511h3v1h-3zM321 511h1v1h-1zM328 511h1v1h-1zM339 511h1v1h-1zM346 511h2v1h-2zM369 511h1v1h-1zM371 511h2v1h-2zM376 511h8v1h-8zM388 511h3v1h-3zM411 511h1v1h-1zM418 511h2v1h-2zM424 511h3v1h-3zM440 511h1v1h-1zM546 511h9v1h-9zM754 511h1v1h-1zM804 511h1v1h-1zM838 511h5v1h-5zM849 511h3v1h-3zM856 511h8v1h-8zM872 511h3v1h-3zM907 511h5v1h-5zM36 511h1v2h-1zM748 511h1v2h-1zM824 511h1v2h-1zM906 511h1v2h-1zM129 512h1v1h-1zM131 512h1v1h-1zM139 512h2v1h-2zM144 512h7v1h-7zM156 512h1v1h-1zM161 512h3v1h-3zM168 512h3v1h-3zM215 512h1v1h-1zM254 512h2v1h-2zM259 512h2v1h-2zM282 512h1v1h-1zM336 512h3v1h-3zM348 512h3v1h-3zM370 512h1v1h-1zM384 512h4v1h-4zM417 512h1v1h-1zM420 512h4v1h-4zM427 512h1v1h-1zM433 512h3v1h-3zM439 512h1v1h-1zM544 512h2v1h-2zM630 512h2v1h-2zM738 512h1v1h-1zM837 512h1v1h-1zM843 512h2v1h-2zM847 512h2v1h-2zM852 512h4v1h-4zM864 512h8v1h-8zM875 512h1v1h-1zM214 512h1v2h-1zM237 512h1v2h-1zM320 512h1v2h-1zM329 512h1v2h-1zM412 512h1v2h-1zM444 512h1v2h-1zM755 512h1v2h-1zM803 512h1v2h-1zM915 512h1v2h-1zM113 512h1v3h-1zM597 512h1v4h-1zM138 513h1v1h-1zM157 513h1v1h-1zM159 513h2v1h-2zM171 513h1v1h-1zM252 513h2v1h-2zM261 513h6v1h-6zM281 513h1v1h-1zM294 513h1v1h-1zM332 513h4v1h-4zM416 513h1v1h-1zM428 513h2v1h-2zM431 513h2v1h-2zM436 513h3v1h-3zM543 513h1v1h-1zM632 513h3v1h-3zM657 513h6v1h-6zM737 513h1v1h-1zM739 513h1v1h-1zM825 513h1v1h-1zM836 513h1v1h-1zM845 513h2v1h-2zM128 513h1v2h-1zM132 513h1v2h-1zM283 513h1v2h-1zM629 513h1v2h-1zM747 513h1v2h-1zM876 513h1v2h-1zM905 513h1v2h-1zM35 513h1v3h-1zM136 514h2v1h-2zM158 514h1v1h-1zM251 514h1v1h-1zM267 514h1v1h-1zM293 514h1v1h-1zM295 514h2v1h-2zM300 514h4v1h-4zM319 514h1v1h-1zM330 514h2v1h-2zM413 514h1v1h-1zM415 514h1v1h-1zM430 514h1v1h-1zM635 514h1v1h-1zM642 514h1v1h-1zM655 514h2v1h-2zM670 514h5v1h-5zM681 514h2v1h-2zM736 514h1v1h-1zM740 514h2v1h-2zM802 514h1v1h-1zM826 514h1v1h-1zM835 514h1v1h-1zM172 514h1v2h-1zM213 514h1v2h-1zM238 514h1v2h-1zM280 514h1v2h-1zM445 514h1v2h-1zM542 514h1v2h-1zM663 514h1v2h-1zM756 514h1v2h-1zM916 514h1v2h-1zM127 515h1v1h-1zM133 515h1v1h-1zM135 515h1v1h-1zM239 515h4v1h-4zM249 515h2v1h-2zM297 515h3v1h-3zM304 515h3v1h-3zM316 515h3v1h-3zM414 515h1v1h-1zM601 515h3v1h-3zM636 515h1v1h-1zM640 515h2v1h-2zM643 515h2v1h-2zM652 515h3v1h-3zM669 515h1v1h-1zM675 515h2v1h-2zM679 515h2v1h-2zM683 515h1v1h-1zM735 515h1v1h-1zM742 515h5v1h-5zM778 515h1v1h-1zM785 515h2v1h-2zM800 515h2v1h-2zM827 515h2v1h-2zM832 515h3v1h-3zM877 515h1v1h-1zM898 515h1v1h-1zM114 515h1v2h-1zM268 515h1v2h-1zM284 515h1v2h-1zM292 515h1v2h-1zM628 515h1v2h-1zM726 515h1v2h-1zM904 515h1v2h-1zM29 516h3v1h-3zM115 516h1v1h-1zM124 516h3v1h-3zM134 516h1v1h-1zM173 516h1v1h-1zM243 516h2v1h-2zM247 516h2v1h-2zM279 516h1v1h-1zM307 516h2v1h-2zM312 516h4v1h-4zM448 516h3v1h-3zM599 516h2v1h-2zM604 516h3v1h-3zM637 516h1v1h-1zM639 516h1v1h-1zM645 516h7v1h-7zM664 516h1v1h-1zM677 516h2v1h-2zM684 516h1v1h-1zM727 516h1v1h-1zM733 516h2v1h-2zM777 516h1v1h-1zM779 516h2v1h-2zM783 516h2v1h-2zM787 516h1v1h-1zM799 516h1v1h-1zM829 516h3v1h-3zM878 516h1v1h-1zM885 516h3v1h-3zM899 516h1v1h-1zM34 516h1v2h-1zM446 516h1v2h-1zM541 516h1v2h-1zM598 516h1v2h-1zM668 516h1v2h-1zM757 516h1v2h-1zM897 516h1v2h-1zM917 516h1v2h-1zM212 516h1v3h-1zM22 517h2v1h-2zM27 517h2v1h-2zM32 517h2v1h-2zM116 517h8v1h-8zM174 517h2v1h-2zM245 517h2v1h-2zM269 517h1v1h-1zM272 517h7v1h-7zM291 517h1v1h-1zM309 517h3v1h-3zM447 517h1v1h-1zM451 517h2v1h-2zM456 517h8v1h-8zM607 517h1v1h-1zM638 517h1v1h-1zM685 517h1v1h-1zM728 517h2v1h-2zM731 517h2v1h-2zM776 517h1v1h-1zM781 517h2v1h-2zM797 517h2v1h-2zM879 517h2v1h-2zM883 517h2v1h-2zM888 517h3v1h-3zM900 517h1v1h-1zM285 517h1v2h-1zM627 517h1v2h-1zM665 517h1v2h-1zM725 517h1v2h-1zM788 517h1v2h-1zM903 517h1v2h-1zM2 518h1v1h-1zM24 518h3v1h-3zM176 518h3v1h-3zM270 518h2v1h-2zM288 518h3v1h-3zM453 518h3v1h-3zM464 518h3v1h-3zM608 518h2v1h-2zM612 518h4v1h-4zM667 518h1v1h-1zM686 518h2v1h-2zM696 518h3v1h-3zM730 518h1v1h-1zM768 518h4v1h-4zM775 518h1v1h-1zM795 518h2v1h-2zM881 518h2v1h-2zM891 518h1v1h-1zM901 518h1v1h-1zM920 518h3v1h-3zM21 518h1v2h-1zM540 518h1v2h-1zM758 518h1v2h-1zM896 518h1v2h-1zM918 518h1v2h-1zM3 519h2v1h-2zM179 519h1v1h-1zM286 519h2v1h-2zM467 519h1v1h-1zM486 519h5v1h-5zM514 519h1v1h-1zM533 519h2v1h-2zM610 519h2v1h-2zM616 519h4v1h-4zM624 519h3v1h-3zM666 519h1v1h-1zM688 519h8v1h-8zM699 519h2v1h-2zM765 519h3v1h-3zM772 519h3v1h-3zM789 519h1v1h-1zM792 519h3v1h-3zM902 519h1v1h-1zM919 519h1v1h-1zM211 519h1v2h-1zM892 519h1v2h-1zM724 519h1v3h-1zM5 520h3v1h-3zM20 520h1v1h-1zM468 520h1v1h-1zM485 520h1v1h-1zM491 520h2v1h-2zM504 520h3v1h-3zM515 520h1v1h-1zM531 520h2v1h-2zM535 520h1v1h-1zM620 520h4v1h-4zM701 520h6v1h-6zM759 520h2v1h-2zM763 520h2v1h-2zM790 520h2v1h-2zM180 520h1v2h-1zM513 520h1v2h-1zM539 520h1v2h-1zM895 520h1v2h-1zM8 521h4v1h-4zM469 521h1v1h-1zM493 521h2v1h-2zM502 521h2v1h-2zM516 521h2v1h-2zM520 521h11v1h-11zM536 521h2v1h-2zM707 521h1v1h-1zM761 521h2v1h-2zM893 521h1v1h-1zM19 521h1v2h-1zM210 521h1v2h-1zM484 521h1v2h-1zM507 521h1v2h-1zM12 522h4v1h-4zM181 522h1v1h-1zM206 522h4v1h-4zM470 522h2v1h-2zM518 522h2v1h-2zM538 522h1v1h-1zM708 522h1v1h-1zM894 522h1v1h-1zM495 522h1v2h-1zM501 522h1v2h-1zM512 522h1v2h-1zM723 522h1v2h-1zM16 523h3v1h-3zM182 523h1v1h-1zM205 523h1v1h-1zM472 523h3v1h-3zM483 523h1v1h-1zM508 523h1v1h-1zM709 523h1v1h-1zM712 523h3v1h-3zM183 524h1v1h-1zM475 524h2v1h-2zM480 524h3v1h-3zM496 524h1v1h-1zM500 524h1v1h-1zM710 524h2v1h-2zM715 524h2v1h-2zM204 524h1v2h-1zM509 524h1v2h-1zM511 524h1v2h-1zM722 524h1v2h-1zM184 525h2v1h-2zM188 525h8v1h-8zM477 525h3v1h-3zM717 525h5v1h-5zM497 525h1v2h-1zM499 525h1v2h-1zM186 526h2v1h-2zM196 526h4v1h-4zM203 526h1v1h-1zM510 526h1v1h-1zM200 527h3v1h-3zM498 527h1v1h-1z" fill="#1e90ff"/><rect x="1165" y="39" width="2" height="1" fill="#000"/><text x="1170" y="42.5" font-size="9" fill="#000" text-anchor="start" font-weight="normal" >0.9381</text><rect x="1165" y="72" width="2" height="1" fill="#000"/><text x="1170" y="75.5" font-size="9" fill="#000" text-anchor="start" font-weight="normal" >0.9339</text><rect x="1165" y="105" width="2" height="1" fill="#000"/><text x="1170" y="108.5" font-size="9" fill="#000" text-anchor="start" font-weight="normal" >0.9297</text><rect x="1165" y="138" width="2" height="1" fill="#000"/><text x="1170" y="141.5" font-size="9" fill="#000" text-anchor="start" font-weight="normal" >0.9255</text><rect x="1165" y="171" width="2" height="1" fill="#000"/><text x="1170" y="174.5" font-size="9" fill="#000" text-anchor="start" font-weight="normal" >0.9212</text><rect x="1165" y="204" width="2" height="1" fill="#000"/><text x="1170" y="207.5" font-size="9" fill="#000" text-anchor="start" font-weight="normal" >0.9170</text><rect x="1165" y="237" width="2" height="1" fill="#000"/><text x="1170" y="240.5" font-size="9" fill="#000" text-anchor="start" font-weight="normal" >0.9128</text><rect x="1165" y="270" width="2" height="1" fill="#000"/><text x="1170" y="273.5" font-size="9" fill="#000" text-anchor="start" font-weight="normal" >0.9086</text><rect x="1165" y="303" width="2" height="1" fill="#000"/><text x="1170" y="306.5" font-size="9" fill="#000" text-anchor="start" font-weight="normal" >0.9044</text><rect x="1165" y="336" width="2" height="1" fill="#000"/><text x="1170" y="339.5" font-size="9" fill="#000" text-anchor="start" font-weight="normal" >0.9001</text><rect x="1165" y="369" width="2" height="1" fill="#000"/><text x="1170" y="372.5" font-size="9" fill="#000" text-anchor="start" font-weight="normal" >0.8959</text><rect x="1165" y="402" width="2" height="1" fill="#000"/><text x="1170" y="405.5" font-size="9" fill="#000" text-anchor="start" font-weight="normal" >0.8917</text><text x="1168" y="416.5" font-size="9" fill="#000" text-anchor="start" font-weight="normal" >0.0059</text><text x="1168" y="452.5" font-size="9" fill="#000" text-anchor="start" font-weight="normal" >0.00</text><text x="1168" y="473" font-size="9" fill="#000" text-anchor="start" font-weight="normal" >-0.0038</text><rect x="1165" y="449" width="2" height="1" fill="#000"/><rect x="1165" y="409" width="2" height="1" fill="#000"/><text x="1168" y="489" font-size="9" fill="#000" text-anchor="start" font-weight="normal" >100</text><text x="1168" y="504" font-size="9" fill="#000" text-anchor="start" font-weight="normal" >70</text><text x="1168" y="532" font-size="9" fill="#000" text-anchor="start" font-weight="normal" >30</text><text x="1168" y="547" font-size="9" fill="#000" text-anchor="start" font-weight="normal" >0</text><rect x="1166" y="96" width="30" height="11" fill="#ff0000"/><text x="1170" y="104.7" font-size="9" fill="#fff" text-anchor="start" font-weight="normal" >0.9300</text><rect x="1166" y="174" width="30" height="11" fill="#00ff00"/><text x="1170" y="182.7" font-size="9" fill="#fff" text-anchor="start" font-weight="normal" >0.9200</text><rect x="1166" y="188" width="30" height="11" fill="#000000"/><text x="1170" y="196.7" font-size="9" fill="#fff" text-anchor="start" font-weight="normal" >0.9184</text><rect x="1166" y="253" width="30" height="11" fill="#0000ff"/><text x="1170" y="261.7" font-size="9" fill="#fff" text-anchor="start" font-weight="normal" >0.9100</text><rect x="1166" y="331" width="30" height="11" fill="#0000ff"/><text x="1170" y="339.7" font-size="9" fill="#fff" text-anchor="start" font-weight="normal" >0.9000</text><rect x="2" y="551" width="1" height="3" fill="#000"/><text x="1.5" y="563" font-size="9" fill="#000" text-anchor="start" font-weight="normal" textLength="43.7" lengthAdjust="spacingAndGlyphs">6 Jun 2021</text><rect x="66" y="551" width="1" height="3" fill="#000"/><text x="65.5" y="563" font-size="9" fill="#000" text-anchor="start" font-weight="normal" textLength="48.5" lengthAdjust="spacingAndGlyphs">24 Jun 2021</text><rect x="130" y="551" width="1" height="3" fill="#000"/><text x="129.5" y="563" font-size="9" fill="#000" text-anchor="start" font-weight="normal" textLength="45.4" lengthAdjust="spacingAndGlyphs">13 Jul 2021</text><rect x="194" y="551" width="1" height="3" fill="#000"/><text x="193.5" y="563" font-size="9" fill="#000" text-anchor="start" font-weight="normal" textLength="46.8" lengthAdjust="spacingAndGlyphs">1 Aug 2021</text><rect x="258" y="551" width="1" height="3" fill="#000"/><text x="257.5" y="563" font-size="9" fill="#000" text-anchor="start" font-weight="normal" textLength="52.1" lengthAdjust="spacingAndGlyphs">19 Aug 2021</text><rect x="322" y="551" width="1" height="3" fill="#000"/><text x="321.5" y="563" font-size="9" fill="#000" text-anchor="start" font-weight="normal" textLength="46.4" lengthAdjust="spacingAndGlyphs">7 Sep 2021</text><rect x="386" y="551" width="1" height="3" fill="#000"/><text x="385.5" y="563" font-size="9" fill="#000" text-anchor="start" font-weight="normal" textLength="50.8" lengthAdjust="spacingAndGlyphs">26 Sep 2021</text><rect x="450" y="551" width="1" height="3" fill="#000"/><text x="449.5" y="563" font-size="9" fill="#000" text-anchor="start" font-weight="normal" textLength="50.2" lengthAdjust="spacingAndGlyphs">14 Oct 2021</text><rect x="514" y="551" width="1" height="3" fill="#000"/><text x="513.5" y="563" font-size="9" fill="#000" text-anchor="start" font-weight="normal" textLength="47.2" lengthAdjust="spacingAndGlyphs">2 Nov 2021</text><rect x="578" y="551" width="1" height="3" fill="#000"/><text x="577.5" y="563" font-size="9" fill="#000" text-anchor="start" font-weight="normal" textLength="53.8" lengthAdjust="spacingAndGlyphs">21 Nov 2021</text><rect x="642" y="551" width="1" height="3" fill="#000"/><text x="641.5" y="563" font-size="9" fill="#000" text-anchor="start" font-weight="normal" textLength="46.7" lengthAdjust="spacingAndGlyphs">9 Dec 2021</text><rect x="706" y="551" width="1" height="3" fill="#000"/><text x="705.5" y="563" font-size="9" fill="#000" text-anchor="start" font-weight="normal" textLength="51.3" lengthAdjust="spacingAndGlyphs">28 Dec 2021</text><rect x="770" y="551" width="1" height="3" fill="#000"/><text x="769.5" y="563" font-size="9" fill="#000" text-anchor="start" font-weight="normal" textLength="49" lengthAdjust="spacingAndGlyphs">16 Jan 2022</text><rect x="834" y="551" width="1" height="3" fill="#000"/><text x="833.5" y="563" font-size="9" fill="#000" text-anchor="start" font-weight="normal" textLength="46.1" lengthAdjust="spacingAndGlyphs">3 Feb 2022</text><rect x="898" y="551" width="1" height="3" fill="#000"/><text x="897.5" y="563" font-size="9" fill="#000" text-anchor="start" font-weight="normal" textLength="51.7" lengthAdjust="spacingAndGlyphs">22 Feb 2022</text><polygon points="5,37 12,37 8.5,33" fill="#000" shape-rendering="auto"/><text x="17.5" y="37.5" font-size="9" fill="#000" text-anchor="start" font-weight="normal" textLength="67" lengthAdjust="spacingAndGlyphs">USDCHF-,Daily</text><text x="91.5" y="37.5" font-size="9" fill="#000" text-anchor="start" font-weight="normal" textLength="139.5" lengthAdjust="spacingAndGlyphs">0.91749 0.92044 0.91492 0.91847</text><g shape-rendering="auto"><defs><linearGradient id="bg1" x1="0" y1="0" x2="0" y2="1"><stop offset="0" stop-color="#5a5af8"/><stop offset="0.45" stop-color="#2a2ae0"/><stop offset="1" stop-color="#0000b4"/></linearGradient><linearGradient id="gb" x1="0" y1="0" x2="0" y2="1"><stop offset="0" stop-color="#f4f4f4"/><stop offset="0.5" stop-color="#dcdcdc"/><stop offset="1" stop-color="#cfcfcf"/></linearGradient></defs><rect x="5" y="46" width="219" height="57" fill="#fff"/><path d="M5 46H57V70H114V103H5Z" fill="url(#bg1)"/><path d="M172 46H224V103H116V70H172Z" fill="url(#bg1)"/><rect x="9" y="70" width="44" height="1" fill="#8a8aff"/><rect x="176" y="70" width="44" height="1" fill="#8a8aff"/><rect x="58.5" y="46.5" width="111" height="21" fill="#fff" stroke="#b4b4b4"/><rect x="60" y="48" width="20" height="18" fill="url(#gb)"/><rect x="149" y="48" width="19.5" height="18" fill="url(#gb)"/><rect x="80" y="47" width="1" height="20" fill="#c8c8c8"/><rect x="148" y="47" width="1" height="20" fill="#c8c8c8"/><polygon points="68,55.3 72.4,55.3 70.2,58" fill="#5468c8" shape-rendering="auto"/><polygon points="157,58 161.4,58 159.2,55.3" fill="#5468c8" shape-rendering="auto"/><text x="144.5" y="61" font-size="11.5" fill="#000" text-anchor="end" font-weight="normal" >1.00</text><text x="17.5" y="62" font-size="12" fill="#fff" text-anchor="start" font-weight="normal" textLength="25.5" lengthAdjust="spacingAndGlyphs">SELL</text><text x="185.5" y="62" font-size="12" fill="#fff" text-anchor="start" font-weight="normal" textLength="22.5" lengthAdjust="spacingAndGlyphs">BUY</text><text x="25" y="98" font-size="12" fill="#fff" text-anchor="start" font-weight="bold" textLength="23.7" lengthAdjust="spacingAndGlyphs">0.91</text><text x="135" y="98" font-size="12" fill="#fff" text-anchor="start" font-weight="bold" textLength="23.7" lengthAdjust="spacingAndGlyphs">0.91</text><text x="53" y="98" font-size="33.5" fill="#fff" text-anchor="start" font-weight="normal" textLength="34.5" lengthAdjust="spacingAndGlyphs">84</text><text x="164" y="98" font-size="33.5" fill="#fff" text-anchor="start" font-weight="normal" textLength="34" lengthAdjust="spacingAndGlyphs">87</text><text x="92.5" y="82" font-size="12" fill="#fff" text-anchor="start" font-weight="bold" >7</text><text x="203" y="82" font-size="12" fill="#fff" text-anchor="start" font-weight="bold" >5</text></g><rect x="0" y="571" width="1195" height="1" fill="#e4e4e4"/><rect x="0" y="572" width="1195" height="1" fill="#f6f6f6"/><rect x="320" y="572" width="106" height="19" fill="#fff"/><rect x="0" y="573" width="320" height="1" fill="#000"/><rect x="426" y="573" width="769" height="1" fill="#000"/><rect x="0" y="574" width="318" height="1" fill="#f8f8f8"/><rect x="428" y="574" width="767" height="1" fill="#f8f8f8"/><rect x="318" y="574" width="1" height="17" fill="#f8f8f8"/><rect x="319" y="573" width="1" height="19" fill="#000"/><rect x="426" y="573" width="1" height="19" fill="#000"/><rect x="319" y="591" width="108" height="1" fill="#000"/><rect x="0" y="594" width="1195" height="3" fill="#f4f4f4"/><rect x="103" y="576" width="1" height="14" fill="#707070"/><rect x="211" y="576" width="1" height="14" fill="#707070"/><rect x="535" y="576" width="1" height="14" fill="#707070"/><rect x="647" y="576" width="1" height="14" fill="#707070"/><rect x="747" y="576" width="1" height="14" fill="#707070"/><rect x="827" y="576" width="1" height="14" fill="#707070"/><rect x="915" y="576" width="1" height="14" fill="#707070"/><rect x="999" y="576" width="1" height="14" fill="#707070"/><polygon points="1183.5,578.5 1183.5,585.5 1179.5,582" fill="#7a7a7a" shape-rendering="auto"/><text x="-3" y="13.5" font-size="9" fill="#3c3c3c" text-anchor="start" font-weight="normal" shape-rendering="auto">5</text><text x="13.5" y="13.5" font-size="9" fill="#3c3c3c" text-anchor="start" font-weight="normal" shape-rendering="auto">M30</text><text x="44.5" y="13.5" font-size="9" fill="#3c3c3c" text-anchor="start" font-weight="normal" shape-rendering="auto">H1</text><text x="71.5" y="13.5" font-size="9" fill="#3c3c3c" text-anchor="start" font-weight="normal" shape-rendering="auto">H4</text><text x="100.5" y="13.5" font-size="9" fill="#3c3c3c" text-anchor="start" font-weight="normal" shape-rendering="auto">D1</text><text x="128" y="13.5" font-size="9" fill="#3c3c3c" text-anchor="start" font-weight="normal" shape-rendering="auto">W1</text><text x="154.5" y="13.5" font-size="9" fill="#3c3c3c" text-anchor="start" font-weight="normal" shape-rendering="auto">MN</text><text x="14.5" y="588" font-size="12.5" fill="#6d6d6d" text-anchor="start" font-weight="normal" textLength="77.3" lengthAdjust="spacingAndGlyphs">USDX,Weekly</text><text x="114.5" y="588" font-size="12.5" fill="#6d6d6d" text-anchor="start" font-weight="normal" textLength="84.3" lengthAdjust="spacingAndGlyphs">EURUSD-,Daily</text><text x="221" y="588" font-size="12.5" fill="#6d6d6d" text-anchor="start" font-weight="normal" textLength="87" lengthAdjust="spacingAndGlyphs">AUDUSD-,Daily</text><text x="438.4" y="588" font-size="12.5" fill="#6d6d6d" text-anchor="start" font-weight="normal" textLength="85.6" lengthAdjust="spacingAndGlyphs">USDCAD-,Daily</text><text x="547.5" y="588" font-size="12.5" fill="#6d6d6d" text-anchor="start" font-weight="normal" textLength="87.4" lengthAdjust="spacingAndGlyphs">USDCNH-,Daily</text><text x="658" y="588" font-size="12.5" fill="#6d6d6d" text-anchor="start" font-weight="normal" textLength="76.8" lengthAdjust="spacingAndGlyphs">XAUUSD-,M5</text><text x="758.5" y="588" font-size="12.5" fill="#6d6d6d" text-anchor="start" font-weight="normal" textLength="56.2" lengthAdjust="spacingAndGlyphs">UKOil-,H1</text><text x="839.5" y="588" font-size="12.5" fill="#6d6d6d" text-anchor="start" font-weight="normal" textLength="63.2" lengthAdjust="spacingAndGlyphs">DJ30-,Daily</text><text x="926.4" y="588" font-size="12.5" fill="#6d6d6d" text-anchor="start" font-weight="normal" textLength="60.7" lengthAdjust="spacingAndGlyphs">UK100-,H1</text><text x="331.5" y="588" font-size="12.5" fill="#000" text-anchor="start" font-weight="normal" textLength="83.4" lengthAdjust="spacingAndGlyphs">USDCHF-,Daily</text>
</svg>
</body></html>
